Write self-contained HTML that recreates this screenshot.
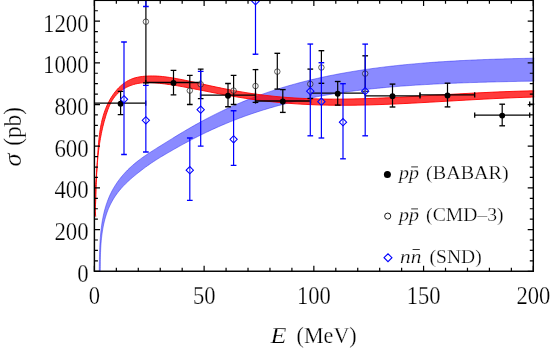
<!DOCTYPE html>
<html><head><meta charset="utf-8"><title>chart</title>
<style>
html,body{margin:0;padding:0;background:#fff;}
body{width:551px;height:354px;overflow:hidden;}
svg{display:block;will-change:transform;}
text{font-family:"Liberation Serif",serif;fill:#000;stroke:#fff;stroke-width:0.25px;paint-order:fill stroke;}
</style></head><body>
<svg width="551" height="354" viewBox="0 0 551 354">
<rect x="0" y="0" width="551" height="354" fill="#fff"/>
<defs><clipPath id="pc"><rect x="93.90" y="0" width="440.40" height="271.85"/></clipPath></defs>
<g clip-path="url(#pc)">
<path d="M99.22,270.85 C99.22,270.47 99.25,269.33 99.26,268.57 C99.28,267.80 99.29,267.03 99.30,266.26 C99.32,265.49 99.33,264.71 99.34,263.93 C99.36,263.15 99.37,262.37 99.38,261.58 C99.40,260.79 99.41,260.00 99.43,259.21 C99.45,258.42 99.46,257.63 99.48,256.83 C99.50,256.03 99.52,255.23 99.54,254.43 C99.56,253.63 99.58,252.83 99.61,252.02 C99.63,251.22 99.66,250.41 99.69,249.60 C99.72,248.80 99.75,247.99 99.78,247.17 C99.82,246.36 99.85,245.55 99.89,244.74 C99.93,243.93 99.98,243.11 100.02,242.30 C100.07,241.48 100.12,240.67 100.17,239.85 C100.23,239.04 100.29,238.22 100.35,237.40 C100.41,236.59 100.48,235.77 100.55,234.96 C100.62,234.14 100.70,233.33 100.78,232.51 C100.86,231.70 100.95,230.88 101.04,230.07 C101.13,229.26 101.22,228.44 101.33,227.63 C101.43,226.82 101.54,226.01 101.65,225.20 C101.77,224.39 101.89,223.59 102.01,222.78 C102.14,221.98 102.28,221.17 102.42,220.37 C102.56,219.57 102.70,218.77 102.86,217.97 C103.01,217.17 103.17,216.38 103.34,215.59 C103.51,214.79 103.69,214.00 103.87,213.22 C104.06,212.43 104.25,211.65 104.45,210.87 C104.66,210.09 104.86,209.31 105.08,208.53 C105.30,207.76 105.53,206.99 105.76,206.22 C106.00,205.46 106.24,204.69 106.50,203.93 C106.75,203.18 107.01,202.42 107.29,201.67 C107.56,200.92 107.84,200.18 108.13,199.44 C108.42,198.70 108.72,197.96 109.03,197.23 C109.34,196.50 109.66,195.77 109.99,195.05 C110.32,194.33 110.66,193.62 111.01,192.91 C111.36,192.20 111.72,191.50 112.09,190.80 C112.46,190.10 112.83,189.41 113.22,188.73 C113.61,188.04 114.01,187.36 114.42,186.69 C114.83,186.02 115.25,185.35 115.67,184.69 C116.10,184.03 116.53,183.37 116.98,182.72 C117.43,182.07 117.88,181.43 118.34,180.79 C118.81,180.16 119.28,179.53 119.76,178.90 C120.24,178.28 120.73,177.66 121.22,177.05 C121.72,176.44 122.23,175.83 122.74,175.24 C123.25,174.64 123.78,174.04 124.31,173.46 C124.84,172.87 125.37,172.29 125.92,171.72 C126.46,171.15 127.02,170.58 127.58,170.02 C128.14,169.46 128.71,168.91 129.28,168.36 C129.85,167.82 130.44,167.28 131.02,166.74 C131.61,166.21 132.21,165.68 132.81,165.15 C133.41,164.63 134.02,164.11 134.63,163.60 C135.24,163.09 135.86,162.58 136.48,162.08 C137.11,161.58 137.74,161.08 138.37,160.59 C139.00,160.10 139.64,159.61 140.28,159.13 C140.93,158.65 141.57,158.18 142.23,157.71 C142.88,157.24 143.53,156.78 144.19,156.32 C144.85,155.86 145.51,155.41 146.18,154.96 C146.84,154.51 147.51,154.07 148.18,153.62 C148.85,153.18 149.53,152.74 150.20,152.30 C150.88,151.87 151.56,151.43 152.24,151.00 C152.92,150.57 153.60,150.14 154.29,149.70 C154.97,149.27 155.66,148.84 156.34,148.41 C157.03,147.98 157.72,147.55 158.40,147.12 C159.09,146.70 159.78,146.27 160.47,145.84 C161.16,145.41 161.85,144.98 162.53,144.55 C163.22,144.12 163.91,143.69 164.60,143.26 C165.29,142.83 165.98,142.41 166.67,141.98 C167.35,141.55 168.04,141.12 168.73,140.70 C169.42,140.27 170.11,139.84 170.80,139.42 C171.49,138.99 172.18,138.56 172.87,138.14 C173.55,137.71 173.89,137.51 174.93,136.87 C175.98,136.23 177.95,135.02 179.16,134.29 C180.36,133.57 181.15,133.09 182.15,132.50 C183.15,131.90 184.15,131.31 185.15,130.72 C186.15,130.13 187.15,129.55 188.15,128.97 C189.15,128.39 190.15,127.81 191.15,127.24 C192.15,126.67 193.15,126.10 194.15,125.54 C195.15,124.97 196.15,124.41 197.15,123.86 C198.14,123.31 199.14,122.76 200.14,122.21 C201.14,121.67 202.14,121.12 203.14,120.59 C204.14,120.05 205.14,119.52 206.14,118.99 C207.14,118.47 208.14,117.94 209.14,117.43 C210.14,116.91 211.14,116.40 212.14,115.89 C213.14,115.38 214.13,114.88 215.13,114.38 C216.13,113.88 217.13,113.38 218.13,112.89 C219.13,112.40 220.13,111.92 221.13,111.44 C222.13,110.96 223.13,110.48 224.13,110.01 C225.13,109.54 226.13,109.08 227.13,108.61 C228.13,108.15 229.12,107.70 230.12,107.25 C231.12,106.79 232.12,106.35 233.12,105.90 C234.12,105.46 235.12,105.02 236.12,104.59 C237.12,104.16 238.12,103.73 239.12,103.30 C240.12,102.88 241.12,102.46 242.12,102.04 C243.11,101.63 244.11,101.22 245.11,100.81 C246.11,100.40 247.11,100.00 248.11,99.60 C249.11,99.21 250.11,98.81 251.11,98.43 C252.11,98.04 253.11,97.65 254.11,97.27 C255.11,96.89 256.11,96.52 257.10,96.14 C258.10,95.77 259.10,95.41 260.10,95.04 C261.10,94.68 262.10,94.32 263.10,93.97 C264.10,93.61 265.10,93.26 266.10,92.91 C267.10,92.57 268.10,92.22 269.10,91.89 C270.10,91.55 271.09,91.21 272.09,90.88 C273.09,90.55 274.09,90.22 275.09,89.90 C276.09,89.58 277.09,89.26 278.09,88.94 C279.09,88.63 280.09,88.32 281.09,88.01 C282.09,87.70 283.09,87.40 284.09,87.10 C285.09,86.80 286.09,86.50 287.08,86.21 C288.08,85.92 289.08,85.63 290.08,85.34 C291.08,85.05 292.08,84.77 293.08,84.49 C294.08,84.21 295.08,83.94 296.08,83.67 C297.08,83.39 298.08,83.13 299.08,82.86 C300.08,82.60 301.08,82.33 302.08,82.07 C303.07,81.82 304.07,81.56 305.07,81.31 C306.07,81.06 307.07,80.81 308.07,80.56 C309.07,80.32 310.07,80.07 311.07,79.83 C312.07,79.59 313.07,79.36 314.07,79.12 C315.07,78.89 316.07,78.66 317.07,78.43 C318.07,78.21 319.07,77.98 320.06,77.76 C321.06,77.54 322.06,77.32 323.06,77.10 C324.06,76.89 325.06,76.68 326.06,76.47 C327.06,76.26 328.06,76.05 329.06,75.84 C330.06,75.64 331.06,75.44 332.06,75.24 C333.06,75.04 334.06,74.84 335.06,74.65 C336.06,74.45 337.06,74.26 338.06,74.07 C339.06,73.89 340.05,73.70 341.05,73.52 C342.05,73.33 343.05,73.15 344.05,72.97 C345.05,72.79 346.05,72.62 347.05,72.44 C348.05,72.27 349.05,72.10 350.05,71.93 C351.05,71.76 352.05,71.59 353.05,71.43 C354.05,71.27 355.05,71.10 356.05,70.94 C357.05,70.78 358.05,70.63 359.05,70.47 C360.05,70.32 361.05,70.16 362.04,70.01 C363.04,69.86 364.04,69.71 365.04,69.57 C366.04,69.42 367.04,69.28 368.04,69.13 C369.04,68.99 370.04,68.85 371.04,68.71 C372.04,68.57 373.04,68.44 374.04,68.30 C375.04,68.17 376.04,68.04 377.04,67.91 C378.04,67.77 379.04,67.65 380.04,67.52 C381.04,67.39 382.04,67.27 383.04,67.14 C384.04,67.02 385.04,66.90 386.04,66.78 C387.04,66.66 388.03,66.54 389.03,66.43 C390.03,66.31 391.03,66.20 392.03,66.09 C393.03,65.97 394.03,65.86 395.03,65.75 C396.03,65.65 397.03,65.54 398.03,65.43 C399.03,65.33 400.03,65.22 401.03,65.12 C402.03,65.02 403.03,64.92 404.03,64.82 C405.03,64.72 406.03,64.62 407.03,64.53 C408.03,64.43 409.03,64.34 410.03,64.24 C411.03,64.15 412.03,64.06 413.03,63.97 C414.03,63.88 415.03,63.79 416.03,63.70 C417.03,63.61 418.03,63.53 419.03,63.44 C420.02,63.36 421.02,63.28 422.02,63.19 C423.02,63.11 424.02,63.03 425.02,62.95 C426.02,62.87 427.02,62.80 428.02,62.72 C429.02,62.64 430.02,62.57 431.02,62.49 C432.02,62.42 433.02,62.35 434.02,62.28 C435.02,62.20 436.02,62.13 437.02,62.06 C438.02,62.00 439.02,61.93 440.02,61.86 C441.02,61.79 442.02,61.73 443.02,61.66 C444.02,61.60 445.02,61.54 446.02,61.47 C447.02,61.41 448.02,61.35 449.02,61.29 C450.02,61.23 451.02,61.17 452.02,61.11 C453.02,61.06 454.02,61.00 455.02,60.94 C456.02,60.89 457.02,60.83 458.02,60.78 C459.02,60.72 460.02,60.67 461.02,60.62 C462.02,60.57 463.02,60.52 464.01,60.47 C465.01,60.42 466.01,60.37 467.01,60.32 C468.01,60.27 469.01,60.22 470.01,60.18 C471.01,60.13 472.01,60.09 473.01,60.04 C474.01,60.00 475.01,59.95 476.01,59.91 C477.01,59.87 478.01,59.82 479.01,59.78 C480.01,59.74 481.01,59.70 482.01,59.66 C483.01,59.62 484.01,59.58 485.01,59.54 C486.01,59.51 487.01,59.47 488.01,59.43 C489.01,59.40 490.01,59.36 491.01,59.32 C492.01,59.29 493.01,59.26 494.01,59.22 C495.01,59.19 496.01,59.15 497.01,59.12 C498.01,59.09 499.01,59.06 500.01,59.03 C501.01,59.00 502.01,58.97 503.01,58.94 C504.01,58.91 505.01,58.88 506.01,58.85 C507.01,58.82 508.01,58.79 509.01,58.76 C510.01,58.74 511.01,58.71 512.01,58.68 C513.01,58.66 514.01,58.63 515.01,58.61 C516.01,58.58 517.01,58.56 518.01,58.53 C519.01,58.51 520.01,58.49 521.01,58.46 C522.01,58.44 523.01,58.42 524.01,58.40 C525.01,58.38 526.01,58.35 527.01,58.33 C528.01,58.31 529.01,58.29 530.01,58.27 C531.01,58.25 532.24,58.23 533.01,58.21 C533.77,58.20 534.34,58.19 534.61,58.18 L534.59,81.06 C534.49,81.06 534.59,81.06 533.99,81.07 C533.39,81.09 531.99,81.11 530.99,81.13 C529.99,81.15 528.99,81.17 527.99,81.19 C526.99,81.21 525.99,81.23 524.99,81.25 C523.99,81.27 522.99,81.29 521.99,81.31 C520.99,81.33 519.99,81.35 518.99,81.37 C517.99,81.39 516.99,81.41 515.99,81.43 C514.99,81.45 513.99,81.47 512.99,81.50 C511.99,81.52 510.99,81.54 509.99,81.56 C508.99,81.58 507.99,81.60 506.99,81.63 C505.99,81.65 504.99,81.67 503.99,81.70 C502.99,81.72 501.99,81.74 500.99,81.77 C499.99,81.79 498.99,81.81 497.99,81.84 C496.99,81.86 495.99,81.89 494.99,81.91 C493.99,81.94 492.99,81.96 491.99,81.99 C490.99,82.02 489.99,82.04 488.99,82.07 C487.99,82.10 486.99,82.12 485.99,82.15 C484.99,82.18 483.99,82.21 482.99,82.23 C481.99,82.26 480.99,82.29 479.99,82.32 C478.99,82.35 477.99,82.38 476.99,82.41 C475.99,82.44 474.99,82.47 473.99,82.50 C472.99,82.54 471.99,82.57 470.99,82.60 C469.99,82.63 468.99,82.67 467.99,82.70 C466.99,82.73 465.99,82.77 464.99,82.80 C463.99,82.84 462.99,82.87 461.99,82.91 C460.99,82.95 459.99,82.98 458.99,83.02 C457.99,83.06 456.99,83.10 455.99,83.14 C454.99,83.18 453.99,83.22 452.99,83.26 C451.99,83.30 450.99,83.34 449.99,83.38 C448.99,83.42 447.99,83.46 446.99,83.51 C445.99,83.55 444.99,83.60 443.99,83.64 C442.99,83.69 441.99,83.73 440.99,83.78 C439.99,83.83 438.99,83.87 437.99,83.92 C436.99,83.97 435.99,84.02 434.98,84.07 C433.98,84.12 432.98,84.17 431.98,84.23 C430.98,84.28 429.98,84.33 428.98,84.39 C427.98,84.44 426.98,84.49 425.98,84.55 C424.98,84.61 423.98,84.67 422.98,84.72 C421.98,84.78 420.98,84.84 419.98,84.90 C418.98,84.96 417.98,85.02 416.98,85.09 C415.98,85.15 414.98,85.21 413.98,85.28 C412.98,85.34 411.98,85.41 410.98,85.48 C409.98,85.55 408.98,85.61 407.98,85.68 C406.98,85.76 405.98,85.83 404.98,85.90 C403.98,85.97 402.98,86.05 401.98,86.12 C400.98,86.20 399.98,86.27 398.98,86.35 C397.98,86.43 396.98,86.51 395.98,86.59 C394.98,86.67 393.98,86.75 392.98,86.83 C391.97,86.92 390.97,87.00 389.97,87.09 C388.97,87.18 387.97,87.26 386.97,87.35 C385.97,87.44 384.97,87.53 383.97,87.63 C382.97,87.72 381.97,87.81 380.97,87.91 C379.97,88.01 378.97,88.10 377.97,88.20 C376.97,88.30 375.97,88.40 374.97,88.51 C373.97,88.61 372.97,88.71 371.97,88.82 C370.97,88.93 369.97,89.03 368.97,89.14 C367.97,89.25 366.97,89.37 365.97,89.48 C364.97,89.59 363.97,89.71 362.97,89.83 C361.96,89.94 360.96,90.06 359.96,90.18 C358.96,90.30 357.96,90.43 356.96,90.55 C355.96,90.68 354.96,90.81 353.96,90.93 C352.96,91.06 351.96,91.20 350.96,91.33 C349.96,91.46 348.96,91.60 347.96,91.74 C346.96,91.87 345.96,92.01 344.96,92.16 C343.96,92.30 342.96,92.44 341.96,92.59 C340.96,92.74 339.96,92.89 338.96,93.04 C337.95,93.19 336.95,93.34 335.95,93.50 C334.95,93.66 333.95,93.82 332.95,93.98 C331.95,94.14 330.95,94.30 329.95,94.47 C328.95,94.64 327.95,94.80 326.95,94.98 C325.95,95.15 324.95,95.32 323.95,95.50 C322.95,95.67 321.95,95.85 320.95,96.04 C319.95,96.22 318.95,96.40 317.94,96.59 C316.94,96.78 315.94,96.97 314.94,97.16 C313.94,97.36 312.94,97.55 311.94,97.75 C310.94,97.95 309.94,98.15 308.94,98.36 C307.94,98.56 306.94,98.77 305.94,98.98 C304.94,99.19 303.94,99.40 302.94,99.62 C301.94,99.84 300.94,100.06 299.93,100.28 C298.93,100.51 297.93,100.73 296.93,100.96 C295.93,101.19 294.93,101.43 293.93,101.66 C292.93,101.90 291.93,102.14 290.93,102.38 C289.93,102.62 288.93,102.87 287.93,103.12 C286.93,103.37 285.93,103.62 284.93,103.88 C283.92,104.14 282.92,104.40 281.92,104.66 C280.92,104.92 279.92,105.19 278.92,105.46 C277.92,105.73 276.92,106.01 275.92,106.29 C274.92,106.57 273.92,106.85 272.92,107.13 C271.92,107.42 270.92,107.71 269.92,108.00 C268.91,108.30 267.91,108.59 266.91,108.89 C265.91,109.20 264.91,109.50 263.91,109.81 C262.91,110.12 261.91,110.43 260.91,110.75 C259.91,111.07 258.91,111.39 257.91,111.71 C256.91,112.04 255.91,112.37 254.91,112.70 C253.90,113.03 252.90,113.37 251.90,113.71 C250.90,114.06 249.90,114.40 248.90,114.75 C247.90,115.10 246.90,115.46 245.90,115.82 C244.90,116.17 243.90,116.54 242.90,116.90 C241.90,117.27 240.90,117.64 239.89,118.02 C238.89,118.40 237.89,118.78 236.89,119.16 C235.89,119.55 234.89,119.94 233.89,120.33 C232.89,120.72 231.89,121.12 230.89,121.53 C229.89,121.93 228.89,122.34 227.89,122.75 C226.89,123.16 225.88,123.58 224.88,124.00 C223.88,124.42 222.88,124.85 221.88,125.28 C220.88,125.71 219.88,126.14 218.88,126.58 C217.88,127.02 216.88,127.46 215.88,127.91 C214.88,128.36 213.88,128.81 212.88,129.27 C211.87,129.73 210.87,130.19 209.87,130.66 C208.87,131.13 207.87,131.60 206.87,132.07 C205.87,132.55 204.87,133.03 203.87,133.52 C202.87,134.00 201.87,134.49 200.87,134.98 C199.87,135.48 198.87,135.98 197.87,136.48 C196.86,136.98 195.86,137.49 194.86,138.00 C193.86,138.52 192.86,139.03 191.86,139.55 C190.86,140.08 189.86,140.60 188.86,141.13 C187.86,141.66 186.86,142.19 185.86,142.73 C184.86,143.27 183.86,143.81 182.86,144.36 C181.86,144.91 180.86,145.46 179.85,146.01 C178.85,146.57 177.97,147.06 176.85,147.69 C175.74,148.32 174.12,149.24 173.17,149.78 C172.22,150.33 171.82,150.56 171.14,150.94 C170.47,151.33 169.79,151.72 169.12,152.11 C168.45,152.50 167.78,152.88 167.11,153.27 C166.44,153.66 165.77,154.05 165.10,154.44 C164.44,154.84 163.77,155.23 163.11,155.63 C162.44,156.02 161.78,156.42 161.12,156.82 C160.46,157.22 159.80,157.62 159.15,158.03 C158.49,158.43 157.83,158.84 157.18,159.25 C156.53,159.67 155.87,160.08 155.22,160.50 C154.57,160.92 153.92,161.34 153.28,161.77 C152.63,162.20 151.98,162.63 151.34,163.07 C150.70,163.51 150.06,163.95 149.42,164.39 C148.78,164.84 148.14,165.29 147.50,165.74 C146.87,166.20 146.23,166.66 145.60,167.12 C144.97,167.58 144.34,168.05 143.71,168.52 C143.09,168.99 142.46,169.47 141.84,169.95 C141.21,170.43 140.59,170.91 139.97,171.39 C139.35,171.88 138.73,172.36 138.12,172.85 C137.50,173.34 136.89,173.84 136.28,174.33 C135.67,174.82 135.06,175.32 134.46,175.82 C133.85,176.32 133.25,176.83 132.66,177.33 C132.06,177.84 131.47,178.35 130.88,178.87 C130.29,179.39 129.70,179.91 129.13,180.43 C128.55,180.96 127.97,181.49 127.41,182.03 C126.84,182.56 126.28,183.10 125.73,183.65 C125.17,184.20 124.62,184.75 124.08,185.31 C123.54,185.87 123.01,186.43 122.48,187.00 C121.96,187.58 121.44,188.15 120.93,188.74 C120.42,189.32 119.92,189.91 119.43,190.51 C118.94,191.11 118.46,191.71 117.99,192.33 C117.51,192.94 117.05,193.56 116.60,194.19 C116.15,194.81 115.71,195.45 115.28,196.09 C114.84,196.73 114.42,197.38 114.01,198.04 C113.60,198.69 113.20,199.35 112.81,200.02 C112.42,200.69 112.04,201.37 111.67,202.05 C111.31,202.73 110.95,203.42 110.60,204.11 C110.25,204.81 109.92,205.51 109.59,206.21 C109.26,206.92 108.95,207.63 108.64,208.34 C108.34,209.06 108.04,209.78 107.76,210.51 C107.48,211.24 107.20,211.97 106.94,212.70 C106.68,213.44 106.43,214.18 106.19,214.93 C105.94,215.68 105.71,216.43 105.49,217.18 C105.27,217.93 105.05,218.69 104.85,219.45 C104.65,220.22 104.45,220.98 104.27,221.75 C104.08,222.52 103.90,223.29 103.73,224.06 C103.56,224.84 103.40,225.61 103.25,226.39 C103.10,227.17 102.95,227.96 102.82,228.74 C102.68,229.52 102.55,230.31 102.43,231.10 C102.30,231.88 102.19,232.67 102.08,233.46 C101.97,234.25 101.87,235.05 101.77,235.84 C101.68,236.63 101.59,237.42 101.50,238.22 C101.42,239.01 101.34,239.81 101.27,240.60 C101.20,241.39 101.13,242.19 101.07,242.98 C101.01,243.78 100.95,244.57 100.90,245.36 C100.85,246.16 100.80,246.95 100.76,247.74 C100.72,248.53 100.68,249.32 100.65,250.11 C100.61,250.90 100.58,251.69 100.55,252.48 C100.53,253.26 100.50,254.05 100.48,254.83 C100.46,255.61 100.44,256.39 100.42,257.17 C100.41,257.95 100.40,258.73 100.38,259.50 C100.37,260.28 100.36,261.05 100.35,261.82 C100.34,262.59 100.34,263.35 100.33,264.11 C100.33,264.88 100.32,265.64 100.32,266.39 C100.31,267.15 100.31,267.90 100.30,268.65 C100.30,269.40 100.29,270.51 100.29,270.89 Z" fill="rgba(0,0,255,0.46)" stroke="none"/>
<path d="M99.22,270.85 C99.22,270.47 99.25,269.33 99.26,268.57 C99.28,267.80 99.29,267.03 99.30,266.26 C99.32,265.49 99.33,264.71 99.34,263.93 C99.36,263.15 99.37,262.37 99.38,261.58 C99.40,260.79 99.41,260.00 99.43,259.21 C99.45,258.42 99.46,257.63 99.48,256.83 C99.50,256.03 99.52,255.23 99.54,254.43 C99.56,253.63 99.58,252.83 99.61,252.02 C99.63,251.22 99.66,250.41 99.69,249.60 C99.72,248.80 99.75,247.99 99.78,247.17 C99.82,246.36 99.85,245.55 99.89,244.74 C99.93,243.93 99.98,243.11 100.02,242.30 C100.07,241.48 100.12,240.67 100.17,239.85 C100.23,239.04 100.29,238.22 100.35,237.40 C100.41,236.59 100.48,235.77 100.55,234.96 C100.62,234.14 100.70,233.33 100.78,232.51 C100.86,231.70 100.95,230.88 101.04,230.07 C101.13,229.26 101.22,228.44 101.33,227.63 C101.43,226.82 101.54,226.01 101.65,225.20 C101.77,224.39 101.89,223.59 102.01,222.78 C102.14,221.98 102.28,221.17 102.42,220.37 C102.56,219.57 102.70,218.77 102.86,217.97 C103.01,217.17 103.17,216.38 103.34,215.59 C103.51,214.79 103.69,214.00 103.87,213.22 C104.06,212.43 104.25,211.65 104.45,210.87 C104.66,210.09 104.86,209.31 105.08,208.53 C105.30,207.76 105.53,206.99 105.76,206.22 C106.00,205.46 106.24,204.69 106.50,203.93 C106.75,203.18 107.01,202.42 107.29,201.67 C107.56,200.92 107.84,200.18 108.13,199.44 C108.42,198.70 108.72,197.96 109.03,197.23 C109.34,196.50 109.66,195.77 109.99,195.05 C110.32,194.33 110.66,193.62 111.01,192.91 C111.36,192.20 111.72,191.50 112.09,190.80 C112.46,190.10 112.83,189.41 113.22,188.73 C113.61,188.04 114.01,187.36 114.42,186.69 C114.83,186.02 115.25,185.35 115.67,184.69 C116.10,184.03 116.53,183.37 116.98,182.72 C117.43,182.07 117.88,181.43 118.34,180.79 C118.81,180.16 119.28,179.53 119.76,178.90 C120.24,178.28 120.73,177.66 121.22,177.05 C121.72,176.44 122.23,175.83 122.74,175.24 C123.25,174.64 123.78,174.04 124.31,173.46 C124.84,172.87 125.37,172.29 125.92,171.72 C126.46,171.15 127.02,170.58 127.58,170.02 C128.14,169.46 128.71,168.91 129.28,168.36 C129.85,167.82 130.44,167.28 131.02,166.74 C131.61,166.21 132.21,165.68 132.81,165.15 C133.41,164.63 134.02,164.11 134.63,163.60 C135.24,163.09 135.86,162.58 136.48,162.08 C137.11,161.58 137.74,161.08 138.37,160.59 C139.00,160.10 139.64,159.61 140.28,159.13 C140.93,158.65 141.57,158.18 142.23,157.71 C142.88,157.24 143.53,156.78 144.19,156.32 C144.85,155.86 145.51,155.41 146.18,154.96 C146.84,154.51 147.51,154.07 148.18,153.62 C148.85,153.18 149.53,152.74 150.20,152.30 C150.88,151.87 151.56,151.43 152.24,151.00 C152.92,150.57 153.60,150.14 154.29,149.70 C154.97,149.27 155.66,148.84 156.34,148.41 C157.03,147.98 157.72,147.55 158.40,147.12 C159.09,146.70 159.78,146.27 160.47,145.84 C161.16,145.41 161.85,144.98 162.53,144.55 C163.22,144.12 163.91,143.69 164.60,143.26 C165.29,142.83 165.98,142.41 166.67,141.98 C167.35,141.55 168.04,141.12 168.73,140.70 C169.42,140.27 170.11,139.84 170.80,139.42 C171.49,138.99 172.18,138.56 172.87,138.14 C173.55,137.71 173.89,137.51 174.93,136.87 C175.98,136.23 177.95,135.02 179.16,134.29 C180.36,133.57 181.15,133.09 182.15,132.50 C183.15,131.90 184.15,131.31 185.15,130.72 C186.15,130.13 187.15,129.55 188.15,128.97 C189.15,128.39 190.15,127.81 191.15,127.24 C192.15,126.67 193.15,126.10 194.15,125.54 C195.15,124.97 196.15,124.41 197.15,123.86 C198.14,123.31 199.14,122.76 200.14,122.21 C201.14,121.67 202.14,121.12 203.14,120.59 C204.14,120.05 205.14,119.52 206.14,118.99 C207.14,118.47 208.14,117.94 209.14,117.43 C210.14,116.91 211.14,116.40 212.14,115.89 C213.14,115.38 214.13,114.88 215.13,114.38 C216.13,113.88 217.13,113.38 218.13,112.89 C219.13,112.40 220.13,111.92 221.13,111.44 C222.13,110.96 223.13,110.48 224.13,110.01 C225.13,109.54 226.13,109.08 227.13,108.61 C228.13,108.15 229.12,107.70 230.12,107.25 C231.12,106.79 232.12,106.35 233.12,105.90 C234.12,105.46 235.12,105.02 236.12,104.59 C237.12,104.16 238.12,103.73 239.12,103.30 C240.12,102.88 241.12,102.46 242.12,102.04 C243.11,101.63 244.11,101.22 245.11,100.81 C246.11,100.40 247.11,100.00 248.11,99.60 C249.11,99.21 250.11,98.81 251.11,98.43 C252.11,98.04 253.11,97.65 254.11,97.27 C255.11,96.89 256.11,96.52 257.10,96.14 C258.10,95.77 259.10,95.41 260.10,95.04 C261.10,94.68 262.10,94.32 263.10,93.97 C264.10,93.61 265.10,93.26 266.10,92.91 C267.10,92.57 268.10,92.22 269.10,91.89 C270.10,91.55 271.09,91.21 272.09,90.88 C273.09,90.55 274.09,90.22 275.09,89.90 C276.09,89.58 277.09,89.26 278.09,88.94 C279.09,88.63 280.09,88.32 281.09,88.01 C282.09,87.70 283.09,87.40 284.09,87.10 C285.09,86.80 286.09,86.50 287.08,86.21 C288.08,85.92 289.08,85.63 290.08,85.34 C291.08,85.05 292.08,84.77 293.08,84.49 C294.08,84.21 295.08,83.94 296.08,83.67 C297.08,83.39 298.08,83.13 299.08,82.86 C300.08,82.60 301.08,82.33 302.08,82.07 C303.07,81.82 304.07,81.56 305.07,81.31 C306.07,81.06 307.07,80.81 308.07,80.56 C309.07,80.32 310.07,80.07 311.07,79.83 C312.07,79.59 313.07,79.36 314.07,79.12 C315.07,78.89 316.07,78.66 317.07,78.43 C318.07,78.21 319.07,77.98 320.06,77.76 C321.06,77.54 322.06,77.32 323.06,77.10 C324.06,76.89 325.06,76.68 326.06,76.47 C327.06,76.26 328.06,76.05 329.06,75.84 C330.06,75.64 331.06,75.44 332.06,75.24 C333.06,75.04 334.06,74.84 335.06,74.65 C336.06,74.45 337.06,74.26 338.06,74.07 C339.06,73.89 340.05,73.70 341.05,73.52 C342.05,73.33 343.05,73.15 344.05,72.97 C345.05,72.79 346.05,72.62 347.05,72.44 C348.05,72.27 349.05,72.10 350.05,71.93 C351.05,71.76 352.05,71.59 353.05,71.43 C354.05,71.27 355.05,71.10 356.05,70.94 C357.05,70.78 358.05,70.63 359.05,70.47 C360.05,70.32 361.05,70.16 362.04,70.01 C363.04,69.86 364.04,69.71 365.04,69.57 C366.04,69.42 367.04,69.28 368.04,69.13 C369.04,68.99 370.04,68.85 371.04,68.71 C372.04,68.57 373.04,68.44 374.04,68.30 C375.04,68.17 376.04,68.04 377.04,67.91 C378.04,67.77 379.04,67.65 380.04,67.52 C381.04,67.39 382.04,67.27 383.04,67.14 C384.04,67.02 385.04,66.90 386.04,66.78 C387.04,66.66 388.03,66.54 389.03,66.43 C390.03,66.31 391.03,66.20 392.03,66.09 C393.03,65.97 394.03,65.86 395.03,65.75 C396.03,65.65 397.03,65.54 398.03,65.43 C399.03,65.33 400.03,65.22 401.03,65.12 C402.03,65.02 403.03,64.92 404.03,64.82 C405.03,64.72 406.03,64.62 407.03,64.53 C408.03,64.43 409.03,64.34 410.03,64.24 C411.03,64.15 412.03,64.06 413.03,63.97 C414.03,63.88 415.03,63.79 416.03,63.70 C417.03,63.61 418.03,63.53 419.03,63.44 C420.02,63.36 421.02,63.28 422.02,63.19 C423.02,63.11 424.02,63.03 425.02,62.95 C426.02,62.87 427.02,62.80 428.02,62.72 C429.02,62.64 430.02,62.57 431.02,62.49 C432.02,62.42 433.02,62.35 434.02,62.28 C435.02,62.20 436.02,62.13 437.02,62.06 C438.02,62.00 439.02,61.93 440.02,61.86 C441.02,61.79 442.02,61.73 443.02,61.66 C444.02,61.60 445.02,61.54 446.02,61.47 C447.02,61.41 448.02,61.35 449.02,61.29 C450.02,61.23 451.02,61.17 452.02,61.11 C453.02,61.06 454.02,61.00 455.02,60.94 C456.02,60.89 457.02,60.83 458.02,60.78 C459.02,60.72 460.02,60.67 461.02,60.62 C462.02,60.57 463.02,60.52 464.01,60.47 C465.01,60.42 466.01,60.37 467.01,60.32 C468.01,60.27 469.01,60.22 470.01,60.18 C471.01,60.13 472.01,60.09 473.01,60.04 C474.01,60.00 475.01,59.95 476.01,59.91 C477.01,59.87 478.01,59.82 479.01,59.78 C480.01,59.74 481.01,59.70 482.01,59.66 C483.01,59.62 484.01,59.58 485.01,59.54 C486.01,59.51 487.01,59.47 488.01,59.43 C489.01,59.40 490.01,59.36 491.01,59.32 C492.01,59.29 493.01,59.26 494.01,59.22 C495.01,59.19 496.01,59.15 497.01,59.12 C498.01,59.09 499.01,59.06 500.01,59.03 C501.01,59.00 502.01,58.97 503.01,58.94 C504.01,58.91 505.01,58.88 506.01,58.85 C507.01,58.82 508.01,58.79 509.01,58.76 C510.01,58.74 511.01,58.71 512.01,58.68 C513.01,58.66 514.01,58.63 515.01,58.61 C516.01,58.58 517.01,58.56 518.01,58.53 C519.01,58.51 520.01,58.49 521.01,58.46 C522.01,58.44 523.01,58.42 524.01,58.40 C525.01,58.38 526.01,58.35 527.01,58.33 C528.01,58.31 529.01,58.29 530.01,58.27 C531.01,58.25 532.24,58.23 533.01,58.21 C533.77,58.20 534.34,58.19 534.61,58.18" fill="none" stroke="rgba(40,40,240,0.8)" stroke-width="0.6"/>
<path d="M100.29,270.89 C100.29,270.51 100.30,269.40 100.30,268.65 C100.31,267.90 100.31,267.15 100.32,266.39 C100.32,265.64 100.33,264.88 100.33,264.11 C100.34,263.35 100.34,262.59 100.35,261.82 C100.36,261.05 100.37,260.28 100.38,259.50 C100.40,258.73 100.41,257.95 100.42,257.17 C100.44,256.39 100.46,255.61 100.48,254.83 C100.50,254.05 100.53,253.26 100.55,252.48 C100.58,251.69 100.61,250.90 100.65,250.11 C100.68,249.32 100.72,248.53 100.76,247.74 C100.80,246.95 100.85,246.16 100.90,245.36 C100.95,244.57 101.01,243.78 101.07,242.98 C101.13,242.19 101.20,241.39 101.27,240.60 C101.34,239.81 101.42,239.01 101.50,238.22 C101.59,237.42 101.68,236.63 101.77,235.84 C101.87,235.05 101.97,234.25 102.08,233.46 C102.19,232.67 102.30,231.88 102.43,231.10 C102.55,230.31 102.68,229.52 102.82,228.74 C102.95,227.96 103.10,227.17 103.25,226.39 C103.40,225.61 103.56,224.84 103.73,224.06 C103.90,223.29 104.08,222.52 104.27,221.75 C104.45,220.98 104.65,220.22 104.85,219.45 C105.05,218.69 105.27,217.93 105.49,217.18 C105.71,216.43 105.94,215.68 106.19,214.93 C106.43,214.18 106.68,213.44 106.94,212.70 C107.20,211.97 107.48,211.24 107.76,210.51 C108.04,209.78 108.34,209.06 108.64,208.34 C108.95,207.63 109.26,206.92 109.59,206.21 C109.92,205.51 110.25,204.81 110.60,204.11 C110.95,203.42 111.31,202.73 111.67,202.05 C112.04,201.37 112.42,200.69 112.81,200.02 C113.20,199.35 113.60,198.69 114.01,198.04 C114.42,197.38 114.84,196.73 115.28,196.09 C115.71,195.45 116.15,194.81 116.60,194.19 C117.05,193.56 117.51,192.94 117.99,192.33 C118.46,191.71 118.94,191.11 119.43,190.51 C119.92,189.91 120.42,189.32 120.93,188.74 C121.44,188.15 121.96,187.58 122.48,187.00 C123.01,186.43 123.54,185.87 124.08,185.31 C124.62,184.75 125.17,184.20 125.73,183.65 C126.28,183.10 126.84,182.56 127.41,182.03 C127.97,181.49 128.55,180.96 129.13,180.43 C129.70,179.91 130.29,179.39 130.88,178.87 C131.47,178.35 132.06,177.84 132.66,177.33 C133.25,176.83 133.85,176.32 134.46,175.82 C135.06,175.32 135.67,174.82 136.28,174.33 C136.89,173.84 137.50,173.34 138.12,172.85 C138.73,172.36 139.35,171.88 139.97,171.39 C140.59,170.91 141.21,170.43 141.84,169.95 C142.46,169.47 143.09,168.99 143.71,168.52 C144.34,168.05 144.97,167.58 145.60,167.12 C146.23,166.66 146.87,166.20 147.50,165.74 C148.14,165.29 148.78,164.84 149.42,164.39 C150.06,163.95 150.70,163.51 151.34,163.07 C151.98,162.63 152.63,162.20 153.28,161.77 C153.92,161.34 154.57,160.92 155.22,160.50 C155.87,160.08 156.53,159.67 157.18,159.25 C157.83,158.84 158.49,158.43 159.15,158.03 C159.80,157.62 160.46,157.22 161.12,156.82 C161.78,156.42 162.44,156.02 163.11,155.63 C163.77,155.23 164.44,154.84 165.10,154.44 C165.77,154.05 166.44,153.66 167.11,153.27 C167.78,152.88 168.45,152.50 169.12,152.11 C169.79,151.72 170.47,151.33 171.14,150.94 C171.82,150.56 172.22,150.33 173.17,149.78 C174.12,149.24 175.74,148.32 176.85,147.69 C177.97,147.06 178.85,146.57 179.85,146.01 C180.86,145.46 181.86,144.91 182.86,144.36 C183.86,143.81 184.86,143.27 185.86,142.73 C186.86,142.19 187.86,141.66 188.86,141.13 C189.86,140.60 190.86,140.08 191.86,139.55 C192.86,139.03 193.86,138.52 194.86,138.00 C195.86,137.49 196.86,136.98 197.87,136.48 C198.87,135.98 199.87,135.48 200.87,134.98 C201.87,134.49 202.87,134.00 203.87,133.52 C204.87,133.03 205.87,132.55 206.87,132.07 C207.87,131.60 208.87,131.13 209.87,130.66 C210.87,130.19 211.87,129.73 212.88,129.27 C213.88,128.81 214.88,128.36 215.88,127.91 C216.88,127.46 217.88,127.02 218.88,126.58 C219.88,126.14 220.88,125.71 221.88,125.28 C222.88,124.85 223.88,124.42 224.88,124.00 C225.88,123.58 226.89,123.16 227.89,122.75 C228.89,122.34 229.89,121.93 230.89,121.53 C231.89,121.12 232.89,120.72 233.89,120.33 C234.89,119.94 235.89,119.55 236.89,119.16 C237.89,118.78 238.89,118.40 239.89,118.02 C240.90,117.64 241.90,117.27 242.90,116.90 C243.90,116.54 244.90,116.17 245.90,115.82 C246.90,115.46 247.90,115.10 248.90,114.75 C249.90,114.40 250.90,114.06 251.90,113.71 C252.90,113.37 253.90,113.03 254.91,112.70 C255.91,112.37 256.91,112.04 257.91,111.71 C258.91,111.39 259.91,111.07 260.91,110.75 C261.91,110.43 262.91,110.12 263.91,109.81 C264.91,109.50 265.91,109.20 266.91,108.89 C267.91,108.59 268.91,108.30 269.92,108.00 C270.92,107.71 271.92,107.42 272.92,107.13 C273.92,106.85 274.92,106.57 275.92,106.29 C276.92,106.01 277.92,105.73 278.92,105.46 C279.92,105.19 280.92,104.92 281.92,104.66 C282.92,104.40 283.92,104.14 284.93,103.88 C285.93,103.62 286.93,103.37 287.93,103.12 C288.93,102.87 289.93,102.62 290.93,102.38 C291.93,102.14 292.93,101.90 293.93,101.66 C294.93,101.43 295.93,101.19 296.93,100.96 C297.93,100.73 298.93,100.51 299.93,100.28 C300.94,100.06 301.94,99.84 302.94,99.62 C303.94,99.40 304.94,99.19 305.94,98.98 C306.94,98.77 307.94,98.56 308.94,98.36 C309.94,98.15 310.94,97.95 311.94,97.75 C312.94,97.55 313.94,97.36 314.94,97.16 C315.94,96.97 316.94,96.78 317.94,96.59 C318.95,96.40 319.95,96.22 320.95,96.04 C321.95,95.85 322.95,95.67 323.95,95.50 C324.95,95.32 325.95,95.15 326.95,94.98 C327.95,94.80 328.95,94.64 329.95,94.47 C330.95,94.30 331.95,94.14 332.95,93.98 C333.95,93.82 334.95,93.66 335.95,93.50 C336.95,93.34 337.95,93.19 338.96,93.04 C339.96,92.89 340.96,92.74 341.96,92.59 C342.96,92.44 343.96,92.30 344.96,92.16 C345.96,92.01 346.96,91.87 347.96,91.74 C348.96,91.60 349.96,91.46 350.96,91.33 C351.96,91.20 352.96,91.06 353.96,90.93 C354.96,90.81 355.96,90.68 356.96,90.55 C357.96,90.43 358.96,90.30 359.96,90.18 C360.96,90.06 361.96,89.94 362.97,89.83 C363.97,89.71 364.97,89.59 365.97,89.48 C366.97,89.37 367.97,89.25 368.97,89.14 C369.97,89.03 370.97,88.93 371.97,88.82 C372.97,88.71 373.97,88.61 374.97,88.51 C375.97,88.40 376.97,88.30 377.97,88.20 C378.97,88.10 379.97,88.01 380.97,87.91 C381.97,87.81 382.97,87.72 383.97,87.63 C384.97,87.53 385.97,87.44 386.97,87.35 C387.97,87.26 388.97,87.18 389.97,87.09 C390.97,87.00 391.97,86.92 392.98,86.83 C393.98,86.75 394.98,86.67 395.98,86.59 C396.98,86.51 397.98,86.43 398.98,86.35 C399.98,86.27 400.98,86.20 401.98,86.12 C402.98,86.05 403.98,85.97 404.98,85.90 C405.98,85.83 406.98,85.76 407.98,85.68 C408.98,85.61 409.98,85.55 410.98,85.48 C411.98,85.41 412.98,85.34 413.98,85.28 C414.98,85.21 415.98,85.15 416.98,85.09 C417.98,85.02 418.98,84.96 419.98,84.90 C420.98,84.84 421.98,84.78 422.98,84.72 C423.98,84.67 424.98,84.61 425.98,84.55 C426.98,84.49 427.98,84.44 428.98,84.39 C429.98,84.33 430.98,84.28 431.98,84.23 C432.98,84.17 433.98,84.12 434.98,84.07 C435.99,84.02 436.99,83.97 437.99,83.92 C438.99,83.87 439.99,83.83 440.99,83.78 C441.99,83.73 442.99,83.69 443.99,83.64 C444.99,83.60 445.99,83.55 446.99,83.51 C447.99,83.46 448.99,83.42 449.99,83.38 C450.99,83.34 451.99,83.30 452.99,83.26 C453.99,83.22 454.99,83.18 455.99,83.14 C456.99,83.10 457.99,83.06 458.99,83.02 C459.99,82.98 460.99,82.95 461.99,82.91 C462.99,82.87 463.99,82.84 464.99,82.80 C465.99,82.77 466.99,82.73 467.99,82.70 C468.99,82.67 469.99,82.63 470.99,82.60 C471.99,82.57 472.99,82.54 473.99,82.50 C474.99,82.47 475.99,82.44 476.99,82.41 C477.99,82.38 478.99,82.35 479.99,82.32 C480.99,82.29 481.99,82.26 482.99,82.23 C483.99,82.21 484.99,82.18 485.99,82.15 C486.99,82.12 487.99,82.10 488.99,82.07 C489.99,82.04 490.99,82.02 491.99,81.99 C492.99,81.96 493.99,81.94 494.99,81.91 C495.99,81.89 496.99,81.86 497.99,81.84 C498.99,81.81 499.99,81.79 500.99,81.77 C501.99,81.74 502.99,81.72 503.99,81.70 C504.99,81.67 505.99,81.65 506.99,81.63 C507.99,81.60 508.99,81.58 509.99,81.56 C510.99,81.54 511.99,81.52 512.99,81.50 C513.99,81.47 514.99,81.45 515.99,81.43 C516.99,81.41 517.99,81.39 518.99,81.37 C519.99,81.35 520.99,81.33 521.99,81.31 C522.99,81.29 523.99,81.27 524.99,81.25 C525.99,81.23 526.99,81.21 527.99,81.19 C528.99,81.17 529.99,81.15 530.99,81.13 C531.99,81.11 533.39,81.09 533.99,81.07 C534.59,81.06 534.49,81.06 534.59,81.06" fill="none" stroke="rgba(40,40,240,0.8)" stroke-width="0.6"/>
<path d="M95.72,216.54 C95.68,216.12 95.55,214.83 95.48,213.99 C95.41,213.14 95.34,212.29 95.29,211.45 C95.24,210.61 95.19,209.77 95.15,208.94 C95.11,208.10 95.08,207.26 95.06,206.43 C95.03,205.60 95.01,204.77 95.00,203.94 C94.99,203.12 94.99,202.29 94.99,201.47 C94.99,200.64 95.00,199.82 95.01,199.00 C95.02,198.18 95.04,197.36 95.06,196.54 C95.08,195.72 95.11,194.90 95.14,194.09 C95.17,193.27 95.20,192.46 95.24,191.64 C95.28,190.83 95.32,190.01 95.37,189.20 C95.41,188.38 95.46,187.57 95.51,186.76 C95.57,185.95 95.62,185.13 95.67,184.32 C95.73,183.51 95.79,182.70 95.85,181.88 C95.91,181.07 95.97,180.26 96.03,179.44 C96.09,178.63 96.15,177.81 96.22,177.00 C96.28,176.18 96.34,175.37 96.41,174.55 C96.47,173.73 96.53,172.91 96.59,172.10 C96.66,171.28 96.72,170.46 96.78,169.63 C96.84,168.81 96.90,167.99 96.96,167.16 C97.01,166.34 97.07,165.51 97.12,164.68 C97.18,163.85 97.23,163.02 97.28,162.19 C97.33,161.36 97.38,160.53 97.43,159.70 C97.48,158.86 97.53,158.03 97.58,157.19 C97.63,156.36 97.68,155.52 97.73,154.69 C97.79,153.85 97.84,153.02 97.89,152.18 C97.95,151.34 98.00,150.51 98.06,149.67 C98.12,148.83 98.17,148.00 98.24,147.16 C98.30,146.32 98.36,145.49 98.43,144.65 C98.50,143.82 98.57,142.98 98.65,142.15 C98.72,141.32 98.80,140.48 98.89,139.65 C98.97,138.82 99.06,137.99 99.16,137.16 C99.25,136.33 99.35,135.50 99.45,134.67 C99.56,133.85 99.67,133.02 99.79,132.20 C99.90,131.37 100.03,130.55 100.16,129.73 C100.29,128.91 100.42,128.10 100.57,127.28 C100.71,126.47 100.87,125.65 101.03,124.84 C101.19,124.03 101.36,123.23 101.54,122.42 C101.71,121.62 101.90,120.81 102.09,120.01 C102.29,119.22 102.50,118.42 102.71,117.63 C102.93,116.83 103.15,116.04 103.39,115.26 C103.62,114.47 103.87,113.69 104.13,112.91 C104.38,112.13 104.65,111.36 104.93,110.59 C105.21,109.82 105.50,109.05 105.81,108.29 C106.11,107.53 106.43,106.77 106.76,106.01 C107.09,105.26 107.43,104.51 107.79,103.77 C108.15,103.02 108.52,102.28 108.90,101.55 C109.28,100.82 109.68,100.09 110.09,99.37 C110.50,98.65 110.93,97.94 111.36,97.24 C111.80,96.53 112.25,95.84 112.71,95.16 C113.18,94.48 113.66,93.80 114.15,93.15 C114.64,92.49 115.14,91.84 115.66,91.21 C116.18,90.58 116.71,89.96 117.25,89.35 C117.80,88.75 118.35,88.16 118.92,87.59 C119.49,87.02 120.08,86.47 120.67,85.93 C121.27,85.40 121.88,84.88 122.50,84.38 C123.12,83.88 123.76,83.40 124.41,82.95 C125.06,82.49 125.72,82.05 126.40,81.64 C127.07,81.23 127.76,80.84 128.46,80.47 C129.16,80.10 129.87,79.76 130.60,79.44 C131.33,79.13 132.07,78.84 132.82,78.57 C133.58,78.30 134.34,78.07 135.12,77.85 C135.90,77.63 136.69,77.44 137.48,77.27 C138.28,77.10 139.09,76.95 139.90,76.82 C140.72,76.68 141.54,76.57 142.37,76.48 C143.19,76.38 144.03,76.30 144.86,76.23 C145.69,76.17 146.53,76.11 147.37,76.07 C148.21,76.03 149.05,76.00 149.88,75.99 C150.72,75.97 151.56,75.96 152.39,75.97 C153.23,75.97 154.06,75.99 154.89,76.01 C155.72,76.04 156.55,76.08 157.38,76.12 C158.21,76.17 159.04,76.22 159.86,76.29 C160.69,76.35 161.51,76.43 162.34,76.51 C163.16,76.59 163.98,76.68 164.80,76.78 C165.63,76.88 166.45,76.99 167.27,77.11 C168.09,77.22 168.90,77.34 169.72,77.47 C170.54,77.59 171.36,77.72 172.17,77.86 C172.99,77.99 173.83,78.14 174.62,78.27 C175.41,78.41 176.03,78.52 176.91,78.68 C177.79,78.84 178.91,79.05 179.91,79.24 C180.90,79.43 181.90,79.63 182.90,79.83 C183.90,80.04 184.90,80.24 185.90,80.45 C186.90,80.66 187.90,80.87 188.90,81.08 C189.89,81.30 190.89,81.51 191.89,81.73 C192.89,81.95 193.89,82.16 194.89,82.38 C195.89,82.60 196.89,82.83 197.89,83.05 C198.89,83.27 199.89,83.49 200.89,83.71 C201.89,83.93 202.89,84.16 203.89,84.38 C204.89,84.60 205.89,84.82 206.89,85.04 C207.89,85.26 208.89,85.48 209.89,85.70 C210.89,85.91 211.89,86.13 212.89,86.35 C213.90,86.56 214.90,86.78 215.90,86.99 C216.90,87.20 217.90,87.41 218.90,87.62 C219.90,87.83 220.90,88.03 221.90,88.24 C222.90,88.44 223.90,88.64 224.90,88.84 C225.90,89.04 226.90,89.24 227.90,89.43 C228.91,89.63 229.91,89.82 230.91,90.01 C231.91,90.20 232.91,90.39 233.91,90.57 C234.91,90.75 235.91,90.93 236.91,91.11 C237.91,91.29 238.91,91.47 239.92,91.64 C240.92,91.81 241.92,91.98 242.92,92.14 C243.92,92.31 244.92,92.47 245.92,92.63 C246.92,92.79 247.92,92.95 248.92,93.10 C249.93,93.26 250.93,93.41 251.93,93.56 C252.93,93.70 253.93,93.85 254.93,93.99 C255.93,94.13 256.93,94.27 257.93,94.40 C258.93,94.54 259.94,94.67 260.94,94.80 C261.94,94.93 262.94,95.05 263.94,95.17 C264.94,95.30 265.94,95.42 266.94,95.53 C267.94,95.65 268.94,95.76 269.95,95.87 C270.95,95.98 271.95,96.09 272.95,96.19 C273.95,96.29 274.95,96.39 275.95,96.49 C276.95,96.59 277.95,96.68 278.95,96.77 C279.96,96.87 280.96,96.95 281.96,97.04 C282.96,97.13 283.96,97.21 284.96,97.29 C285.96,97.37 286.96,97.44 287.96,97.52 C288.96,97.59 289.97,97.66 290.97,97.73 C291.97,97.80 292.97,97.86 293.97,97.93 C294.97,97.99 295.97,98.05 296.97,98.11 C297.97,98.16 298.97,98.22 299.97,98.27 C300.97,98.32 301.98,98.37 302.98,98.42 C303.98,98.47 304.98,98.51 305.98,98.55 C306.98,98.60 307.98,98.63 308.98,98.67 C309.98,98.71 310.98,98.74 311.98,98.77 C312.98,98.81 313.99,98.84 314.99,98.86 C315.99,98.89 316.99,98.92 317.99,98.94 C318.99,98.96 319.99,98.98 320.99,99.00 C321.99,99.02 322.99,99.04 323.99,99.05 C324.99,99.07 325.99,99.08 326.99,99.09 C328.00,99.10 329.00,99.11 330.00,99.11 C331.00,99.12 332.00,99.12 333.00,99.13 C334.00,99.13 335.00,99.13 336.00,99.13 C337.00,99.13 338.00,99.12 339.00,99.12 C340.00,99.11 341.00,99.11 342.00,99.10 C343.00,99.09 344.01,99.08 345.01,99.07 C346.01,99.06 347.01,99.04 348.01,99.03 C349.01,99.01 350.01,99.00 351.01,98.98 C352.01,98.96 353.01,98.94 354.01,98.92 C355.01,98.90 356.01,98.88 357.01,98.86 C358.01,98.83 359.01,98.81 360.01,98.78 C361.01,98.75 362.01,98.73 363.01,98.70 C364.01,98.67 365.02,98.64 366.02,98.61 C367.02,98.58 368.02,98.54 369.02,98.51 C370.02,98.48 371.02,98.44 372.02,98.41 C373.02,98.37 374.02,98.33 375.02,98.30 C376.02,98.26 377.02,98.22 378.02,98.18 C379.02,98.14 380.02,98.10 381.02,98.06 C382.02,98.01 383.02,97.97 384.02,97.93 C385.02,97.89 386.02,97.84 387.02,97.80 C388.02,97.75 389.02,97.71 390.02,97.66 C391.02,97.61 392.02,97.57 393.02,97.52 C394.02,97.47 395.02,97.42 396.02,97.37 C397.02,97.32 398.02,97.27 399.03,97.22 C400.03,97.17 401.03,97.12 402.03,97.07 C403.03,97.02 404.03,96.97 405.03,96.91 C406.03,96.86 407.03,96.81 408.03,96.75 C409.03,96.70 410.03,96.65 411.03,96.59 C412.03,96.54 413.03,96.48 414.03,96.43 C415.03,96.37 416.03,96.32 417.03,96.26 C418.03,96.21 419.03,96.15 420.03,96.10 C421.03,96.04 422.03,95.98 423.03,95.93 C424.03,95.87 425.03,95.81 426.03,95.76 C427.03,95.70 428.03,95.64 429.03,95.59 C430.03,95.53 431.03,95.47 432.03,95.42 C433.03,95.36 434.03,95.30 435.03,95.24 C436.03,95.19 437.03,95.13 438.03,95.07 C439.03,95.02 440.03,94.96 441.03,94.90 C442.03,94.84 443.03,94.79 444.03,94.73 C445.03,94.67 446.03,94.62 447.03,94.56 C448.03,94.50 449.03,94.45 450.03,94.39 C451.03,94.33 452.03,94.28 453.03,94.22 C454.03,94.17 455.03,94.11 456.03,94.05 C457.03,94.00 458.03,93.94 459.03,93.89 C460.03,93.83 461.03,93.78 462.03,93.72 C463.03,93.67 464.03,93.62 465.03,93.56 C466.03,93.51 467.03,93.46 468.03,93.40 C469.03,93.35 470.03,93.30 471.03,93.24 C472.03,93.19 473.03,93.14 474.03,93.09 C475.03,93.04 476.03,92.99 477.03,92.94 C478.02,92.89 479.02,92.84 480.02,92.79 C481.02,92.74 482.02,92.69 483.02,92.64 C484.02,92.59 485.02,92.55 486.02,92.50 C487.02,92.45 488.02,92.40 489.02,92.36 C490.02,92.31 491.02,92.27 492.02,92.22 C493.02,92.18 494.02,92.13 495.02,92.09 C496.02,92.05 497.02,92.00 498.02,91.96 C499.02,91.92 500.02,91.88 501.02,91.84 C502.02,91.80 503.02,91.76 504.02,91.72 C505.02,91.68 506.02,91.64 507.02,91.60 C508.02,91.57 509.02,91.53 510.02,91.49 C511.02,91.46 512.02,91.42 513.02,91.39 C514.02,91.35 515.02,91.32 516.02,91.29 C517.02,91.25 518.02,91.22 519.02,91.19 C520.02,91.16 521.01,91.13 522.01,91.10 C523.01,91.07 524.01,91.04 525.01,91.01 C526.01,90.99 527.01,90.96 528.01,90.93 C529.01,90.91 530.01,90.88 531.01,90.86 C532.01,90.83 533.41,90.80 534.01,90.79 C534.61,90.78 534.51,90.78 534.61,90.78 L534.59,97.03 C534.32,97.03 533.75,97.05 532.99,97.07 C532.22,97.09 530.99,97.13 529.98,97.16 C528.98,97.19 527.98,97.22 526.98,97.25 C525.98,97.29 524.98,97.32 523.98,97.35 C522.98,97.39 521.98,97.42 520.98,97.46 C519.98,97.49 518.98,97.53 517.98,97.57 C516.98,97.61 515.98,97.64 514.98,97.68 C513.98,97.72 512.98,97.76 511.98,97.80 C510.98,97.84 509.98,97.89 508.98,97.93 C507.98,97.97 506.98,98.01 505.98,98.06 C504.98,98.10 503.98,98.15 502.98,98.19 C501.98,98.24 500.98,98.28 499.98,98.33 C498.98,98.38 497.98,98.42 496.98,98.47 C495.98,98.52 494.98,98.57 493.98,98.61 C492.98,98.66 491.98,98.71 490.98,98.76 C489.97,98.81 488.97,98.86 487.97,98.91 C486.97,98.97 485.97,99.02 484.97,99.07 C483.97,99.12 482.97,99.17 481.97,99.23 C480.97,99.28 479.97,99.33 478.97,99.39 C477.97,99.44 476.97,99.49 475.97,99.55 C474.97,99.60 473.97,99.66 472.97,99.71 C471.97,99.77 470.97,99.82 469.97,99.88 C468.97,99.94 467.97,99.99 466.97,100.05 C465.97,100.11 464.97,100.16 463.97,100.22 C462.97,100.28 461.97,100.33 460.97,100.39 C459.97,100.45 458.97,100.50 457.97,100.56 C456.97,100.62 455.97,100.68 454.97,100.74 C453.97,100.79 452.97,100.85 451.97,100.91 C450.97,100.97 449.97,101.02 448.97,101.08 C447.97,101.14 446.97,101.20 445.97,101.26 C444.97,101.31 443.97,101.37 442.97,101.43 C441.97,101.49 440.97,101.55 439.97,101.60 C438.97,101.66 437.97,101.72 436.97,101.78 C435.97,101.83 434.97,101.89 433.97,101.95 C432.97,102.01 431.97,102.06 430.97,102.12 C429.97,102.18 428.97,102.23 427.97,102.29 C426.97,102.34 425.97,102.40 424.97,102.46 C423.97,102.51 422.97,102.57 421.97,102.62 C420.97,102.68 419.97,102.73 418.97,102.78 C417.97,102.84 416.97,102.89 415.97,102.94 C414.97,103.00 413.97,103.05 412.97,103.10 C411.97,103.15 410.97,103.21 409.97,103.26 C408.97,103.31 407.97,103.36 406.98,103.41 C405.98,103.46 404.98,103.51 403.98,103.56 C402.98,103.60 401.98,103.65 400.98,103.70 C399.98,103.75 398.98,103.79 397.98,103.84 C396.98,103.88 395.98,103.93 394.98,103.97 C393.98,104.02 392.98,104.06 391.98,104.10 C390.98,104.14 389.98,104.19 388.98,104.23 C387.98,104.27 386.98,104.31 385.98,104.35 C384.98,104.39 383.98,104.42 382.98,104.46 C381.98,104.50 380.98,104.53 379.98,104.57 C378.98,104.60 377.98,104.64 376.98,104.67 C375.98,104.70 374.98,104.73 373.98,104.76 C372.99,104.79 371.99,104.82 370.99,104.85 C369.99,104.88 368.99,104.90 367.99,104.93 C366.99,104.95 365.99,104.98 364.99,105.00 C363.99,105.02 362.99,105.05 361.99,105.07 C360.99,105.09 359.99,105.10 358.99,105.12 C357.99,105.14 356.99,105.16 355.99,105.17 C354.99,105.18 353.99,105.20 352.99,105.21 C351.99,105.22 351.00,105.23 350.00,105.24 C349.00,105.25 348.00,105.25 347.00,105.26 C346.00,105.26 345.00,105.27 344.00,105.27 C343.00,105.27 342.00,105.27 341.00,105.27 C340.00,105.26 339.00,105.26 338.00,105.26 C337.00,105.25 336.00,105.24 335.00,105.23 C334.01,105.22 333.01,105.21 332.01,105.20 C331.01,105.19 330.01,105.17 329.01,105.16 C328.01,105.14 327.01,105.12 326.01,105.10 C325.01,105.08 324.01,105.06 323.01,105.03 C322.01,105.01 321.01,104.98 320.01,104.95 C319.02,104.92 318.02,104.89 317.02,104.86 C316.02,104.83 315.02,104.79 314.02,104.75 C313.02,104.71 312.02,104.68 311.02,104.63 C310.02,104.59 309.02,104.55 308.02,104.50 C307.02,104.45 306.02,104.41 305.03,104.35 C304.03,104.30 303.03,104.25 302.03,104.19 C301.03,104.14 300.03,104.08 299.03,104.02 C298.03,103.96 297.03,103.89 296.03,103.83 C295.03,103.76 294.03,103.70 293.04,103.63 C292.04,103.55 291.04,103.48 290.04,103.41 C289.04,103.33 288.04,103.25 287.04,103.17 C286.04,103.09 285.04,103.01 284.04,102.92 C283.04,102.84 282.04,102.75 281.05,102.66 C280.05,102.57 279.05,102.47 278.05,102.38 C277.05,102.28 276.05,102.18 275.05,102.08 C274.05,101.98 273.05,101.88 272.05,101.77 C271.05,101.66 270.05,101.55 269.06,101.44 C268.06,101.33 267.06,101.22 266.06,101.10 C265.06,100.98 264.06,100.86 263.06,100.74 C262.06,100.62 261.06,100.49 260.06,100.37 C259.06,100.24 258.07,100.11 257.07,99.97 C256.07,99.84 255.07,99.71 254.07,99.57 C253.07,99.43 252.07,99.29 251.07,99.15 C250.07,99.00 249.07,98.86 248.07,98.71 C247.07,98.56 246.07,98.41 245.08,98.26 C244.08,98.10 243.08,97.95 242.08,97.79 C241.08,97.63 240.08,97.47 239.08,97.31 C238.08,97.15 237.08,96.98 236.08,96.81 C235.08,96.65 234.08,96.48 233.08,96.30 C232.09,96.13 231.09,95.96 230.09,95.78 C229.09,95.61 228.09,95.43 227.09,95.25 C226.09,95.07 225.09,94.89 224.09,94.71 C223.09,94.52 222.09,94.34 221.09,94.15 C220.09,93.96 219.09,93.77 218.09,93.58 C217.09,93.40 216.09,93.20 215.09,93.01 C214.09,92.82 213.10,92.63 212.10,92.43 C211.10,92.24 210.10,92.04 209.10,91.84 C208.10,91.65 207.10,91.45 206.10,91.25 C205.10,91.06 204.10,90.86 203.10,90.66 C202.10,90.46 201.10,90.26 200.10,90.07 C199.10,89.87 198.10,89.67 197.10,89.47 C196.10,89.27 195.10,89.08 194.10,88.88 C193.10,88.68 192.10,88.49 191.09,88.30 C190.09,88.10 189.09,87.91 188.09,87.72 C187.09,87.53 186.09,87.34 185.09,87.15 C184.09,86.97 183.09,86.78 182.09,86.60 C181.09,86.42 180.09,86.24 179.09,86.07 C178.08,85.90 176.90,85.69 176.08,85.56 C175.26,85.42 174.90,85.36 174.17,85.25 C173.44,85.14 172.53,84.99 171.71,84.87 C170.89,84.75 170.07,84.63 169.25,84.52 C168.43,84.40 167.61,84.29 166.79,84.18 C165.97,84.08 165.15,83.97 164.33,83.87 C163.52,83.77 162.70,83.68 161.88,83.59 C161.07,83.50 160.25,83.41 159.43,83.32 C158.62,83.24 157.81,83.16 156.99,83.09 C156.18,83.02 155.37,82.95 154.56,82.89 C153.75,82.83 152.94,82.77 152.14,82.73 C151.33,82.69 150.53,82.66 149.72,82.64 C148.92,82.62 148.12,82.61 147.32,82.62 C146.52,82.63 145.73,82.64 144.93,82.68 C144.14,82.71 143.35,82.76 142.56,82.83 C141.77,82.90 140.98,82.99 140.20,83.10 C139.42,83.20 138.64,83.33 137.86,83.47 C137.09,83.62 136.32,83.79 135.55,83.97 C134.78,84.16 134.02,84.37 133.26,84.60 C132.50,84.83 131.74,85.08 130.99,85.36 C130.24,85.64 129.49,85.93 128.75,86.26 C128.01,86.58 127.27,86.93 126.54,87.30 C125.81,87.68 125.08,88.08 124.36,88.51 C123.64,88.93 122.93,89.39 122.23,89.86 C121.53,90.34 120.84,90.84 120.18,91.37 C119.51,91.89 118.85,92.44 118.23,93.01 C117.60,93.58 116.99,94.17 116.41,94.78 C115.84,95.40 115.29,96.03 114.77,96.68 C114.24,97.33 113.75,98.00 113.29,98.69 C112.82,99.37 112.38,100.07 111.96,100.78 C111.54,101.49 111.14,102.22 110.76,102.96 C110.39,103.69 110.03,104.44 109.69,105.20 C109.35,105.95 109.02,106.72 108.71,107.49 C108.40,108.26 108.11,109.04 107.82,109.82 C107.54,110.60 107.27,111.38 107.00,112.17 C106.73,112.96 106.48,113.74 106.23,114.53 C105.98,115.32 105.73,116.11 105.49,116.90 C105.25,117.69 105.02,118.48 104.80,119.27 C104.57,120.07 104.35,120.86 104.13,121.65 C103.92,122.45 103.71,123.24 103.51,124.04 C103.30,124.83 103.11,125.63 102.91,126.42 C102.72,127.22 102.53,128.02 102.35,128.81 C102.17,129.61 102.00,130.41 101.82,131.21 C101.65,132.01 101.49,132.81 101.33,133.61 C101.16,134.41 101.01,135.21 100.86,136.01 C100.71,136.82 100.56,137.62 100.42,138.42 C100.28,139.22 100.14,140.03 100.01,140.83 C99.87,141.64 99.75,142.44 99.62,143.25 C99.50,144.05 99.38,144.86 99.26,145.66 C99.15,146.47 99.04,147.28 98.93,148.09 C98.82,148.89 98.72,149.70 98.62,150.51 C98.52,151.32 98.42,152.13 98.33,152.94 C98.24,153.75 98.15,154.56 98.06,155.37 C97.98,156.18 97.90,156.99 97.82,157.80 C97.74,158.61 97.67,159.42 97.60,160.23 C97.53,161.05 97.46,161.86 97.39,162.67 C97.33,163.49 97.26,164.30 97.20,165.11 C97.15,165.93 97.09,166.74 97.03,167.55 C96.98,168.37 96.93,169.18 96.88,170.00 C96.83,170.81 96.79,171.63 96.74,172.44 C96.70,173.26 96.66,174.08 96.62,174.89 C96.58,175.71 96.54,176.52 96.51,177.34 C96.47,178.16 96.44,178.97 96.41,179.79 C96.38,180.61 96.35,181.42 96.32,182.24 C96.29,183.06 96.27,183.88 96.24,184.69 C96.22,185.51 96.19,186.33 96.17,187.15 C96.14,187.96 96.12,188.78 96.10,189.60 C96.07,190.41 96.05,191.23 96.02,192.05 C96.00,192.87 95.97,193.68 95.94,194.50 C95.92,195.31 95.89,196.13 95.86,196.95 C95.83,197.76 95.80,198.58 95.76,199.39 C95.73,200.21 95.69,201.02 95.65,201.84 C95.61,202.65 95.57,203.47 95.52,204.28 C95.47,205.09 95.43,205.90 95.37,206.72 C95.32,207.53 95.26,208.34 95.20,209.15 C95.14,209.96 95.07,210.77 95.00,211.58 C94.93,212.39 94.85,213.20 94.77,214.01 C94.69,214.82 94.55,216.03 94.50,216.44 Z" fill="rgba(255,0,0,0.77)" stroke="none"/>
<path d="M95.72,216.54 C95.68,216.12 95.55,214.83 95.48,213.99 C95.41,213.14 95.34,212.29 95.29,211.45 C95.24,210.61 95.19,209.77 95.15,208.94 C95.11,208.10 95.08,207.26 95.06,206.43 C95.03,205.60 95.01,204.77 95.00,203.94 C94.99,203.12 94.99,202.29 94.99,201.47 C94.99,200.64 95.00,199.82 95.01,199.00 C95.02,198.18 95.04,197.36 95.06,196.54 C95.08,195.72 95.11,194.90 95.14,194.09 C95.17,193.27 95.20,192.46 95.24,191.64 C95.28,190.83 95.32,190.01 95.37,189.20 C95.41,188.38 95.46,187.57 95.51,186.76 C95.57,185.95 95.62,185.13 95.67,184.32 C95.73,183.51 95.79,182.70 95.85,181.88 C95.91,181.07 95.97,180.26 96.03,179.44 C96.09,178.63 96.15,177.81 96.22,177.00 C96.28,176.18 96.34,175.37 96.41,174.55 C96.47,173.73 96.53,172.91 96.59,172.10 C96.66,171.28 96.72,170.46 96.78,169.63 C96.84,168.81 96.90,167.99 96.96,167.16 C97.01,166.34 97.07,165.51 97.12,164.68 C97.18,163.85 97.23,163.02 97.28,162.19 C97.33,161.36 97.38,160.53 97.43,159.70 C97.48,158.86 97.53,158.03 97.58,157.19 C97.63,156.36 97.68,155.52 97.73,154.69 C97.79,153.85 97.84,153.02 97.89,152.18 C97.95,151.34 98.00,150.51 98.06,149.67 C98.12,148.83 98.17,148.00 98.24,147.16 C98.30,146.32 98.36,145.49 98.43,144.65 C98.50,143.82 98.57,142.98 98.65,142.15 C98.72,141.32 98.80,140.48 98.89,139.65 C98.97,138.82 99.06,137.99 99.16,137.16 C99.25,136.33 99.35,135.50 99.45,134.67 C99.56,133.85 99.67,133.02 99.79,132.20 C99.90,131.37 100.03,130.55 100.16,129.73 C100.29,128.91 100.42,128.10 100.57,127.28 C100.71,126.47 100.87,125.65 101.03,124.84 C101.19,124.03 101.36,123.23 101.54,122.42 C101.71,121.62 101.90,120.81 102.09,120.01 C102.29,119.22 102.50,118.42 102.71,117.63 C102.93,116.83 103.15,116.04 103.39,115.26 C103.62,114.47 103.87,113.69 104.13,112.91 C104.38,112.13 104.65,111.36 104.93,110.59 C105.21,109.82 105.50,109.05 105.81,108.29 C106.11,107.53 106.43,106.77 106.76,106.01 C107.09,105.26 107.43,104.51 107.79,103.77 C108.15,103.02 108.52,102.28 108.90,101.55 C109.28,100.82 109.68,100.09 110.09,99.37 C110.50,98.65 110.93,97.94 111.36,97.24 C111.80,96.53 112.25,95.84 112.71,95.16 C113.18,94.48 113.66,93.80 114.15,93.15 C114.64,92.49 115.14,91.84 115.66,91.21 C116.18,90.58 116.71,89.96 117.25,89.35 C117.80,88.75 118.35,88.16 118.92,87.59 C119.49,87.02 120.08,86.47 120.67,85.93 C121.27,85.40 121.88,84.88 122.50,84.38 C123.12,83.88 123.76,83.40 124.41,82.95 C125.06,82.49 125.72,82.05 126.40,81.64 C127.07,81.23 127.76,80.84 128.46,80.47 C129.16,80.10 129.87,79.76 130.60,79.44 C131.33,79.13 132.07,78.84 132.82,78.57 C133.58,78.30 134.34,78.07 135.12,77.85 C135.90,77.63 136.69,77.44 137.48,77.27 C138.28,77.10 139.09,76.95 139.90,76.82 C140.72,76.68 141.54,76.57 142.37,76.48 C143.19,76.38 144.03,76.30 144.86,76.23 C145.69,76.17 146.53,76.11 147.37,76.07 C148.21,76.03 149.05,76.00 149.88,75.99 C150.72,75.97 151.56,75.96 152.39,75.97 C153.23,75.97 154.06,75.99 154.89,76.01 C155.72,76.04 156.55,76.08 157.38,76.12 C158.21,76.17 159.04,76.22 159.86,76.29 C160.69,76.35 161.51,76.43 162.34,76.51 C163.16,76.59 163.98,76.68 164.80,76.78 C165.63,76.88 166.45,76.99 167.27,77.11 C168.09,77.22 168.90,77.34 169.72,77.47 C170.54,77.59 171.36,77.72 172.17,77.86 C172.99,77.99 173.83,78.14 174.62,78.27 C175.41,78.41 176.03,78.52 176.91,78.68 C177.79,78.84 178.91,79.05 179.91,79.24 C180.90,79.43 181.90,79.63 182.90,79.83 C183.90,80.04 184.90,80.24 185.90,80.45 C186.90,80.66 187.90,80.87 188.90,81.08 C189.89,81.30 190.89,81.51 191.89,81.73 C192.89,81.95 193.89,82.16 194.89,82.38 C195.89,82.60 196.89,82.83 197.89,83.05 C198.89,83.27 199.89,83.49 200.89,83.71 C201.89,83.93 202.89,84.16 203.89,84.38 C204.89,84.60 205.89,84.82 206.89,85.04 C207.89,85.26 208.89,85.48 209.89,85.70 C210.89,85.91 211.89,86.13 212.89,86.35 C213.90,86.56 214.90,86.78 215.90,86.99 C216.90,87.20 217.90,87.41 218.90,87.62 C219.90,87.83 220.90,88.03 221.90,88.24 C222.90,88.44 223.90,88.64 224.90,88.84 C225.90,89.04 226.90,89.24 227.90,89.43 C228.91,89.63 229.91,89.82 230.91,90.01 C231.91,90.20 232.91,90.39 233.91,90.57 C234.91,90.75 235.91,90.93 236.91,91.11 C237.91,91.29 238.91,91.47 239.92,91.64 C240.92,91.81 241.92,91.98 242.92,92.14 C243.92,92.31 244.92,92.47 245.92,92.63 C246.92,92.79 247.92,92.95 248.92,93.10 C249.93,93.26 250.93,93.41 251.93,93.56 C252.93,93.70 253.93,93.85 254.93,93.99 C255.93,94.13 256.93,94.27 257.93,94.40 C258.93,94.54 259.94,94.67 260.94,94.80 C261.94,94.93 262.94,95.05 263.94,95.17 C264.94,95.30 265.94,95.42 266.94,95.53 C267.94,95.65 268.94,95.76 269.95,95.87 C270.95,95.98 271.95,96.09 272.95,96.19 C273.95,96.29 274.95,96.39 275.95,96.49 C276.95,96.59 277.95,96.68 278.95,96.77 C279.96,96.87 280.96,96.95 281.96,97.04 C282.96,97.13 283.96,97.21 284.96,97.29 C285.96,97.37 286.96,97.44 287.96,97.52 C288.96,97.59 289.97,97.66 290.97,97.73 C291.97,97.80 292.97,97.86 293.97,97.93 C294.97,97.99 295.97,98.05 296.97,98.11 C297.97,98.16 298.97,98.22 299.97,98.27 C300.97,98.32 301.98,98.37 302.98,98.42 C303.98,98.47 304.98,98.51 305.98,98.55 C306.98,98.60 307.98,98.63 308.98,98.67 C309.98,98.71 310.98,98.74 311.98,98.77 C312.98,98.81 313.99,98.84 314.99,98.86 C315.99,98.89 316.99,98.92 317.99,98.94 C318.99,98.96 319.99,98.98 320.99,99.00 C321.99,99.02 322.99,99.04 323.99,99.05 C324.99,99.07 325.99,99.08 326.99,99.09 C328.00,99.10 329.00,99.11 330.00,99.11 C331.00,99.12 332.00,99.12 333.00,99.13 C334.00,99.13 335.00,99.13 336.00,99.13 C337.00,99.13 338.00,99.12 339.00,99.12 C340.00,99.11 341.00,99.11 342.00,99.10 C343.00,99.09 344.01,99.08 345.01,99.07 C346.01,99.06 347.01,99.04 348.01,99.03 C349.01,99.01 350.01,99.00 351.01,98.98 C352.01,98.96 353.01,98.94 354.01,98.92 C355.01,98.90 356.01,98.88 357.01,98.86 C358.01,98.83 359.01,98.81 360.01,98.78 C361.01,98.75 362.01,98.73 363.01,98.70 C364.01,98.67 365.02,98.64 366.02,98.61 C367.02,98.58 368.02,98.54 369.02,98.51 C370.02,98.48 371.02,98.44 372.02,98.41 C373.02,98.37 374.02,98.33 375.02,98.30 C376.02,98.26 377.02,98.22 378.02,98.18 C379.02,98.14 380.02,98.10 381.02,98.06 C382.02,98.01 383.02,97.97 384.02,97.93 C385.02,97.89 386.02,97.84 387.02,97.80 C388.02,97.75 389.02,97.71 390.02,97.66 C391.02,97.61 392.02,97.57 393.02,97.52 C394.02,97.47 395.02,97.42 396.02,97.37 C397.02,97.32 398.02,97.27 399.03,97.22 C400.03,97.17 401.03,97.12 402.03,97.07 C403.03,97.02 404.03,96.97 405.03,96.91 C406.03,96.86 407.03,96.81 408.03,96.75 C409.03,96.70 410.03,96.65 411.03,96.59 C412.03,96.54 413.03,96.48 414.03,96.43 C415.03,96.37 416.03,96.32 417.03,96.26 C418.03,96.21 419.03,96.15 420.03,96.10 C421.03,96.04 422.03,95.98 423.03,95.93 C424.03,95.87 425.03,95.81 426.03,95.76 C427.03,95.70 428.03,95.64 429.03,95.59 C430.03,95.53 431.03,95.47 432.03,95.42 C433.03,95.36 434.03,95.30 435.03,95.24 C436.03,95.19 437.03,95.13 438.03,95.07 C439.03,95.02 440.03,94.96 441.03,94.90 C442.03,94.84 443.03,94.79 444.03,94.73 C445.03,94.67 446.03,94.62 447.03,94.56 C448.03,94.50 449.03,94.45 450.03,94.39 C451.03,94.33 452.03,94.28 453.03,94.22 C454.03,94.17 455.03,94.11 456.03,94.05 C457.03,94.00 458.03,93.94 459.03,93.89 C460.03,93.83 461.03,93.78 462.03,93.72 C463.03,93.67 464.03,93.62 465.03,93.56 C466.03,93.51 467.03,93.46 468.03,93.40 C469.03,93.35 470.03,93.30 471.03,93.24 C472.03,93.19 473.03,93.14 474.03,93.09 C475.03,93.04 476.03,92.99 477.03,92.94 C478.02,92.89 479.02,92.84 480.02,92.79 C481.02,92.74 482.02,92.69 483.02,92.64 C484.02,92.59 485.02,92.55 486.02,92.50 C487.02,92.45 488.02,92.40 489.02,92.36 C490.02,92.31 491.02,92.27 492.02,92.22 C493.02,92.18 494.02,92.13 495.02,92.09 C496.02,92.05 497.02,92.00 498.02,91.96 C499.02,91.92 500.02,91.88 501.02,91.84 C502.02,91.80 503.02,91.76 504.02,91.72 C505.02,91.68 506.02,91.64 507.02,91.60 C508.02,91.57 509.02,91.53 510.02,91.49 C511.02,91.46 512.02,91.42 513.02,91.39 C514.02,91.35 515.02,91.32 516.02,91.29 C517.02,91.25 518.02,91.22 519.02,91.19 C520.02,91.16 521.01,91.13 522.01,91.10 C523.01,91.07 524.01,91.04 525.01,91.01 C526.01,90.99 527.01,90.96 528.01,90.93 C529.01,90.91 530.01,90.88 531.01,90.86 C532.01,90.83 533.41,90.80 534.01,90.79 C534.61,90.78 534.51,90.78 534.61,90.78" fill="none" stroke="#ff0000" stroke-width="0.9"/>
<path d="M94.50,216.44 C94.55,216.03 94.69,214.82 94.77,214.01 C94.85,213.20 94.93,212.39 95.00,211.58 C95.07,210.77 95.14,209.96 95.20,209.15 C95.26,208.34 95.32,207.53 95.37,206.72 C95.43,205.90 95.47,205.09 95.52,204.28 C95.57,203.47 95.61,202.65 95.65,201.84 C95.69,201.02 95.73,200.21 95.76,199.39 C95.80,198.58 95.83,197.76 95.86,196.95 C95.89,196.13 95.92,195.31 95.94,194.50 C95.97,193.68 96.00,192.87 96.02,192.05 C96.05,191.23 96.07,190.41 96.10,189.60 C96.12,188.78 96.14,187.96 96.17,187.15 C96.19,186.33 96.22,185.51 96.24,184.69 C96.27,183.88 96.29,183.06 96.32,182.24 C96.35,181.42 96.38,180.61 96.41,179.79 C96.44,178.97 96.47,178.16 96.51,177.34 C96.54,176.52 96.58,175.71 96.62,174.89 C96.66,174.08 96.70,173.26 96.74,172.44 C96.79,171.63 96.83,170.81 96.88,170.00 C96.93,169.18 96.98,168.37 97.03,167.55 C97.09,166.74 97.15,165.93 97.20,165.11 C97.26,164.30 97.33,163.49 97.39,162.67 C97.46,161.86 97.53,161.05 97.60,160.23 C97.67,159.42 97.74,158.61 97.82,157.80 C97.90,156.99 97.98,156.18 98.06,155.37 C98.15,154.56 98.24,153.75 98.33,152.94 C98.42,152.13 98.52,151.32 98.62,150.51 C98.72,149.70 98.82,148.89 98.93,148.09 C99.04,147.28 99.15,146.47 99.26,145.66 C99.38,144.86 99.50,144.05 99.62,143.25 C99.75,142.44 99.87,141.64 100.01,140.83 C100.14,140.03 100.28,139.22 100.42,138.42 C100.56,137.62 100.71,136.82 100.86,136.01 C101.01,135.21 101.16,134.41 101.33,133.61 C101.49,132.81 101.65,132.01 101.82,131.21 C102.00,130.41 102.17,129.61 102.35,128.81 C102.53,128.02 102.72,127.22 102.91,126.42 C103.11,125.63 103.30,124.83 103.51,124.04 C103.71,123.24 103.92,122.45 104.13,121.65 C104.35,120.86 104.57,120.07 104.80,119.27 C105.02,118.48 105.25,117.69 105.49,116.90 C105.73,116.11 105.98,115.32 106.23,114.53 C106.48,113.74 106.73,112.96 107.00,112.17 C107.27,111.38 107.54,110.60 107.82,109.82 C108.11,109.04 108.40,108.26 108.71,107.49 C109.02,106.72 109.35,105.95 109.69,105.20 C110.03,104.44 110.39,103.69 110.76,102.96 C111.14,102.22 111.54,101.49 111.96,100.78 C112.38,100.07 112.82,99.37 113.29,98.69 C113.75,98.00 114.24,97.33 114.77,96.68 C115.29,96.03 115.84,95.40 116.41,94.78 C116.99,94.17 117.60,93.58 118.23,93.01 C118.85,92.44 119.51,91.89 120.18,91.37 C120.84,90.84 121.53,90.34 122.23,89.86 C122.93,89.39 123.64,88.93 124.36,88.51 C125.08,88.08 125.81,87.68 126.54,87.30 C127.27,86.93 128.01,86.58 128.75,86.26 C129.49,85.93 130.24,85.64 130.99,85.36 C131.74,85.08 132.50,84.83 133.26,84.60 C134.02,84.37 134.78,84.16 135.55,83.97 C136.32,83.79 137.09,83.62 137.86,83.47 C138.64,83.33 139.42,83.20 140.20,83.10 C140.98,82.99 141.77,82.90 142.56,82.83 C143.35,82.76 144.14,82.71 144.93,82.68 C145.73,82.64 146.52,82.63 147.32,82.62 C148.12,82.61 148.92,82.62 149.72,82.64 C150.53,82.66 151.33,82.69 152.14,82.73 C152.94,82.77 153.75,82.83 154.56,82.89 C155.37,82.95 156.18,83.02 156.99,83.09 C157.81,83.16 158.62,83.24 159.43,83.32 C160.25,83.41 161.07,83.50 161.88,83.59 C162.70,83.68 163.52,83.77 164.33,83.87 C165.15,83.97 165.97,84.08 166.79,84.18 C167.61,84.29 168.43,84.40 169.25,84.52 C170.07,84.63 170.89,84.75 171.71,84.87 C172.53,84.99 173.44,85.14 174.17,85.25 C174.90,85.36 175.26,85.42 176.08,85.56 C176.90,85.69 178.08,85.90 179.09,86.07 C180.09,86.24 181.09,86.42 182.09,86.60 C183.09,86.78 184.09,86.97 185.09,87.15 C186.09,87.34 187.09,87.53 188.09,87.72 C189.09,87.91 190.09,88.10 191.09,88.30 C192.10,88.49 193.10,88.68 194.10,88.88 C195.10,89.08 196.10,89.27 197.10,89.47 C198.10,89.67 199.10,89.87 200.10,90.07 C201.10,90.26 202.10,90.46 203.10,90.66 C204.10,90.86 205.10,91.06 206.10,91.25 C207.10,91.45 208.10,91.65 209.10,91.84 C210.10,92.04 211.10,92.24 212.10,92.43 C213.10,92.63 214.09,92.82 215.09,93.01 C216.09,93.20 217.09,93.40 218.09,93.58 C219.09,93.77 220.09,93.96 221.09,94.15 C222.09,94.34 223.09,94.52 224.09,94.71 C225.09,94.89 226.09,95.07 227.09,95.25 C228.09,95.43 229.09,95.61 230.09,95.78 C231.09,95.96 232.09,96.13 233.08,96.30 C234.08,96.48 235.08,96.65 236.08,96.81 C237.08,96.98 238.08,97.15 239.08,97.31 C240.08,97.47 241.08,97.63 242.08,97.79 C243.08,97.95 244.08,98.10 245.08,98.26 C246.07,98.41 247.07,98.56 248.07,98.71 C249.07,98.86 250.07,99.00 251.07,99.15 C252.07,99.29 253.07,99.43 254.07,99.57 C255.07,99.71 256.07,99.84 257.07,99.97 C258.07,100.11 259.06,100.24 260.06,100.37 C261.06,100.49 262.06,100.62 263.06,100.74 C264.06,100.86 265.06,100.98 266.06,101.10 C267.06,101.22 268.06,101.33 269.06,101.44 C270.05,101.55 271.05,101.66 272.05,101.77 C273.05,101.88 274.05,101.98 275.05,102.08 C276.05,102.18 277.05,102.28 278.05,102.38 C279.05,102.47 280.05,102.57 281.05,102.66 C282.04,102.75 283.04,102.84 284.04,102.92 C285.04,103.01 286.04,103.09 287.04,103.17 C288.04,103.25 289.04,103.33 290.04,103.41 C291.04,103.48 292.04,103.55 293.04,103.63 C294.03,103.70 295.03,103.76 296.03,103.83 C297.03,103.89 298.03,103.96 299.03,104.02 C300.03,104.08 301.03,104.14 302.03,104.19 C303.03,104.25 304.03,104.30 305.03,104.35 C306.02,104.41 307.02,104.45 308.02,104.50 C309.02,104.55 310.02,104.59 311.02,104.63 C312.02,104.68 313.02,104.71 314.02,104.75 C315.02,104.79 316.02,104.83 317.02,104.86 C318.02,104.89 319.02,104.92 320.01,104.95 C321.01,104.98 322.01,105.01 323.01,105.03 C324.01,105.06 325.01,105.08 326.01,105.10 C327.01,105.12 328.01,105.14 329.01,105.16 C330.01,105.17 331.01,105.19 332.01,105.20 C333.01,105.21 334.01,105.22 335.00,105.23 C336.00,105.24 337.00,105.25 338.00,105.26 C339.00,105.26 340.00,105.26 341.00,105.27 C342.00,105.27 343.00,105.27 344.00,105.27 C345.00,105.27 346.00,105.26 347.00,105.26 C348.00,105.25 349.00,105.25 350.00,105.24 C351.00,105.23 351.99,105.22 352.99,105.21 C353.99,105.20 354.99,105.18 355.99,105.17 C356.99,105.16 357.99,105.14 358.99,105.12 C359.99,105.10 360.99,105.09 361.99,105.07 C362.99,105.05 363.99,105.02 364.99,105.00 C365.99,104.98 366.99,104.95 367.99,104.93 C368.99,104.90 369.99,104.88 370.99,104.85 C371.99,104.82 372.99,104.79 373.98,104.76 C374.98,104.73 375.98,104.70 376.98,104.67 C377.98,104.64 378.98,104.60 379.98,104.57 C380.98,104.53 381.98,104.50 382.98,104.46 C383.98,104.42 384.98,104.39 385.98,104.35 C386.98,104.31 387.98,104.27 388.98,104.23 C389.98,104.19 390.98,104.14 391.98,104.10 C392.98,104.06 393.98,104.02 394.98,103.97 C395.98,103.93 396.98,103.88 397.98,103.84 C398.98,103.79 399.98,103.75 400.98,103.70 C401.98,103.65 402.98,103.60 403.98,103.56 C404.98,103.51 405.98,103.46 406.98,103.41 C407.97,103.36 408.97,103.31 409.97,103.26 C410.97,103.21 411.97,103.15 412.97,103.10 C413.97,103.05 414.97,103.00 415.97,102.94 C416.97,102.89 417.97,102.84 418.97,102.78 C419.97,102.73 420.97,102.68 421.97,102.62 C422.97,102.57 423.97,102.51 424.97,102.46 C425.97,102.40 426.97,102.34 427.97,102.29 C428.97,102.23 429.97,102.18 430.97,102.12 C431.97,102.06 432.97,102.01 433.97,101.95 C434.97,101.89 435.97,101.83 436.97,101.78 C437.97,101.72 438.97,101.66 439.97,101.60 C440.97,101.55 441.97,101.49 442.97,101.43 C443.97,101.37 444.97,101.31 445.97,101.26 C446.97,101.20 447.97,101.14 448.97,101.08 C449.97,101.02 450.97,100.97 451.97,100.91 C452.97,100.85 453.97,100.79 454.97,100.74 C455.97,100.68 456.97,100.62 457.97,100.56 C458.97,100.50 459.97,100.45 460.97,100.39 C461.97,100.33 462.97,100.28 463.97,100.22 C464.97,100.16 465.97,100.11 466.97,100.05 C467.97,99.99 468.97,99.94 469.97,99.88 C470.97,99.82 471.97,99.77 472.97,99.71 C473.97,99.66 474.97,99.60 475.97,99.55 C476.97,99.49 477.97,99.44 478.97,99.39 C479.97,99.33 480.97,99.28 481.97,99.23 C482.97,99.17 483.97,99.12 484.97,99.07 C485.97,99.02 486.97,98.97 487.97,98.91 C488.97,98.86 489.97,98.81 490.98,98.76 C491.98,98.71 492.98,98.66 493.98,98.61 C494.98,98.57 495.98,98.52 496.98,98.47 C497.98,98.42 498.98,98.38 499.98,98.33 C500.98,98.28 501.98,98.24 502.98,98.19 C503.98,98.15 504.98,98.10 505.98,98.06 C506.98,98.01 507.98,97.97 508.98,97.93 C509.98,97.89 510.98,97.84 511.98,97.80 C512.98,97.76 513.98,97.72 514.98,97.68 C515.98,97.64 516.98,97.61 517.98,97.57 C518.98,97.53 519.98,97.49 520.98,97.46 C521.98,97.42 522.98,97.39 523.98,97.35 C524.98,97.32 525.98,97.29 526.98,97.25 C527.98,97.22 528.98,97.19 529.98,97.16 C530.99,97.13 532.22,97.09 532.99,97.07 C533.75,97.05 534.32,97.03 534.59,97.03" fill="none" stroke="#ff0000" stroke-width="0.9"/>
<line x1="94.30" y1="103.20" x2="145.70" y2="103.20" stroke="#000" stroke-width="1.3"/>
<line x1="94.30" y1="100.60" x2="94.30" y2="105.80" stroke="#000" stroke-width="1.3"/>
<line x1="145.70" y1="100.60" x2="145.70" y2="105.80" stroke="#000" stroke-width="1.3"/>
<line x1="120.60" y1="91.40" x2="120.60" y2="114.60" stroke="#000" stroke-width="1.2"/>
<line x1="117.75" y1="91.40" x2="123.45" y2="91.40" stroke="#000" stroke-width="1.3499999999999999"/>
<line x1="117.75" y1="114.60" x2="123.45" y2="114.60" stroke="#000" stroke-width="1.3499999999999999"/>
<circle cx="120.60" cy="103.70" r="2.95" fill="#000"/>
<line x1="145.70" y1="82.50" x2="200.50" y2="82.50" stroke="#000" stroke-width="1.3"/>
<line x1="145.70" y1="79.90" x2="145.70" y2="85.10" stroke="#000" stroke-width="1.3"/>
<line x1="200.50" y1="79.90" x2="200.50" y2="85.10" stroke="#000" stroke-width="1.3"/>
<line x1="173.50" y1="70.30" x2="173.50" y2="94.80" stroke="#000" stroke-width="1.2"/>
<line x1="170.65" y1="70.30" x2="176.35" y2="70.30" stroke="#000" stroke-width="1.3499999999999999"/>
<line x1="170.65" y1="94.80" x2="176.35" y2="94.80" stroke="#000" stroke-width="1.3499999999999999"/>
<circle cx="173.50" cy="83.00" r="2.95" fill="#000"/>
<line x1="200.50" y1="95.20" x2="255.50" y2="95.20" stroke="#000" stroke-width="1.3"/>
<line x1="200.50" y1="92.60" x2="200.50" y2="97.80" stroke="#000" stroke-width="1.3"/>
<line x1="255.50" y1="92.60" x2="255.50" y2="97.80" stroke="#000" stroke-width="1.3"/>
<line x1="228.00" y1="83.50" x2="228.00" y2="106.70" stroke="#000" stroke-width="1.2"/>
<line x1="225.15" y1="83.50" x2="230.85" y2="83.50" stroke="#000" stroke-width="1.3499999999999999"/>
<line x1="225.15" y1="106.70" x2="230.85" y2="106.70" stroke="#000" stroke-width="1.3499999999999999"/>
<circle cx="228.00" cy="95.70" r="2.95" fill="#000"/>
<line x1="255.50" y1="101.00" x2="310.60" y2="101.00" stroke="#000" stroke-width="1.3"/>
<line x1="255.50" y1="98.40" x2="255.50" y2="103.60" stroke="#000" stroke-width="1.3"/>
<line x1="310.60" y1="98.40" x2="310.60" y2="103.60" stroke="#000" stroke-width="1.3"/>
<line x1="282.80" y1="89.60" x2="282.80" y2="112.40" stroke="#000" stroke-width="1.2"/>
<line x1="279.95" y1="89.60" x2="285.65" y2="89.60" stroke="#000" stroke-width="1.3499999999999999"/>
<line x1="279.95" y1="112.40" x2="285.65" y2="112.40" stroke="#000" stroke-width="1.3499999999999999"/>
<circle cx="282.80" cy="101.50" r="2.95" fill="#000"/>
<line x1="310.60" y1="93.20" x2="365.30" y2="93.20" stroke="#000" stroke-width="1.3"/>
<line x1="310.60" y1="90.60" x2="310.60" y2="95.80" stroke="#000" stroke-width="1.3"/>
<line x1="365.30" y1="90.60" x2="365.30" y2="95.80" stroke="#000" stroke-width="1.3"/>
<line x1="337.70" y1="81.50" x2="337.70" y2="105.10" stroke="#000" stroke-width="1.2"/>
<line x1="334.85" y1="81.50" x2="340.55" y2="81.50" stroke="#000" stroke-width="1.3499999999999999"/>
<line x1="334.85" y1="105.10" x2="340.55" y2="105.10" stroke="#000" stroke-width="1.3499999999999999"/>
<circle cx="337.70" cy="93.70" r="2.95" fill="#000"/>
<line x1="365.30" y1="95.80" x2="420.00" y2="95.80" stroke="#000" stroke-width="1.3"/>
<line x1="365.30" y1="93.20" x2="365.30" y2="98.40" stroke="#000" stroke-width="1.3"/>
<line x1="420.00" y1="93.20" x2="420.00" y2="98.40" stroke="#000" stroke-width="1.3"/>
<line x1="392.50" y1="84.10" x2="392.50" y2="107.00" stroke="#000" stroke-width="1.2"/>
<line x1="389.65" y1="84.10" x2="395.35" y2="84.10" stroke="#000" stroke-width="1.3499999999999999"/>
<line x1="389.65" y1="107.00" x2="395.35" y2="107.00" stroke="#000" stroke-width="1.3499999999999999"/>
<circle cx="392.50" cy="96.30" r="2.95" fill="#000"/>
<line x1="420.00" y1="94.95" x2="474.70" y2="94.95" stroke="#000" stroke-width="1.3"/>
<line x1="420.00" y1="92.35" x2="420.00" y2="97.55" stroke="#000" stroke-width="1.3"/>
<line x1="474.70" y1="92.35" x2="474.70" y2="97.55" stroke="#000" stroke-width="1.3"/>
<line x1="447.50" y1="83.20" x2="447.50" y2="106.90" stroke="#000" stroke-width="1.2"/>
<line x1="444.65" y1="83.20" x2="450.35" y2="83.20" stroke="#000" stroke-width="1.3499999999999999"/>
<line x1="444.65" y1="106.90" x2="450.35" y2="106.90" stroke="#000" stroke-width="1.3499999999999999"/>
<circle cx="447.50" cy="95.45" r="2.95" fill="#000"/>
<line x1="474.70" y1="115.10" x2="529.70" y2="115.10" stroke="#000" stroke-width="1.3"/>
<line x1="474.70" y1="112.50" x2="474.70" y2="117.70" stroke="#000" stroke-width="1.3"/>
<line x1="529.70" y1="112.50" x2="529.70" y2="117.70" stroke="#000" stroke-width="1.3"/>
<line x1="502.20" y1="104.20" x2="502.20" y2="125.80" stroke="#000" stroke-width="1.2"/>
<line x1="499.35" y1="104.20" x2="505.05" y2="104.20" stroke="#000" stroke-width="1.3499999999999999"/>
<line x1="499.35" y1="125.80" x2="505.05" y2="125.80" stroke="#000" stroke-width="1.3499999999999999"/>
<circle cx="502.20" cy="115.60" r="2.95" fill="#000"/>
<line x1="529.70" y1="104.20" x2="584.00" y2="104.20" stroke="#000" stroke-width="1.3"/>
<line x1="529.70" y1="101.60" x2="529.70" y2="106.80" stroke="#000" stroke-width="1.3"/>
<line x1="584.00" y1="101.60" x2="584.00" y2="106.80" stroke="#000" stroke-width="1.3"/>
<line x1="557.00" y1="95.00" x2="557.00" y2="115.00" stroke="#000" stroke-width="1.2"/>
<line x1="554.15" y1="95.00" x2="559.85" y2="95.00" stroke="#000" stroke-width="1.3499999999999999"/>
<line x1="554.15" y1="115.00" x2="559.85" y2="115.00" stroke="#000" stroke-width="1.3499999999999999"/>
<circle cx="557.00" cy="104.70" r="2.95" fill="#000"/>
<line x1="145.90" y1="-42.00" x2="145.90" y2="82.80" stroke="#000" stroke-width="1.2"/>
<line x1="143.05" y1="-42.00" x2="148.75" y2="-42.00" stroke="#000" stroke-width="1.3499999999999999"/>
<line x1="143.05" y1="82.80" x2="148.75" y2="82.80" stroke="#000" stroke-width="1.3499999999999999"/>
<circle cx="145.90" cy="21.70" r="2.75" fill="rgba(255,255,255,0.25)" stroke="#1a1a1a" stroke-width="0.7"/>
<line x1="189.80" y1="75.30" x2="189.80" y2="104.50" stroke="#000" stroke-width="1.2"/>
<line x1="186.95" y1="75.30" x2="192.65" y2="75.30" stroke="#000" stroke-width="1.3499999999999999"/>
<line x1="186.95" y1="104.50" x2="192.65" y2="104.50" stroke="#000" stroke-width="1.3499999999999999"/>
<circle cx="189.80" cy="90.60" r="2.75" fill="rgba(255,255,255,0.25)" stroke="#1a1a1a" stroke-width="0.7"/>
<line x1="200.70" y1="69.10" x2="200.70" y2="98.60" stroke="#000" stroke-width="1.2"/>
<line x1="197.85" y1="69.10" x2="203.55" y2="69.10" stroke="#000" stroke-width="1.3499999999999999"/>
<line x1="197.85" y1="98.60" x2="203.55" y2="98.60" stroke="#000" stroke-width="1.3499999999999999"/>
<circle cx="200.70" cy="84.30" r="2.75" fill="rgba(255,255,255,0.25)" stroke="#1a1a1a" stroke-width="0.7"/>
<line x1="233.60" y1="75.30" x2="233.60" y2="104.50" stroke="#000" stroke-width="1.2"/>
<line x1="230.75" y1="75.30" x2="236.45" y2="75.30" stroke="#000" stroke-width="1.3499999999999999"/>
<line x1="230.75" y1="104.50" x2="236.45" y2="104.50" stroke="#000" stroke-width="1.3499999999999999"/>
<circle cx="233.60" cy="90.60" r="2.75" fill="rgba(255,255,255,0.25)" stroke="#1a1a1a" stroke-width="0.7"/>
<line x1="255.50" y1="69.60" x2="255.50" y2="102.40" stroke="#000" stroke-width="1.2"/>
<line x1="252.65" y1="69.60" x2="258.35" y2="69.60" stroke="#000" stroke-width="1.3499999999999999"/>
<line x1="252.65" y1="102.40" x2="258.35" y2="102.40" stroke="#000" stroke-width="1.3499999999999999"/>
<circle cx="255.50" cy="86.00" r="2.75" fill="rgba(255,255,255,0.25)" stroke="#1a1a1a" stroke-width="0.7"/>
<line x1="277.30" y1="53.30" x2="277.30" y2="89.10" stroke="#000" stroke-width="1.2"/>
<line x1="274.45" y1="53.30" x2="280.15" y2="53.30" stroke="#000" stroke-width="1.3499999999999999"/>
<line x1="274.45" y1="89.10" x2="280.15" y2="89.10" stroke="#000" stroke-width="1.3499999999999999"/>
<circle cx="277.30" cy="71.60" r="2.75" fill="rgba(255,255,255,0.25)" stroke="#1a1a1a" stroke-width="0.7"/>
<line x1="310.30" y1="69.10" x2="310.30" y2="98.50" stroke="#000" stroke-width="1.2"/>
<line x1="307.45" y1="69.10" x2="313.15" y2="69.10" stroke="#000" stroke-width="1.3499999999999999"/>
<line x1="307.45" y1="98.50" x2="313.15" y2="98.50" stroke="#000" stroke-width="1.3499999999999999"/>
<circle cx="310.30" cy="84.00" r="2.75" fill="rgba(255,255,255,0.25)" stroke="#1a1a1a" stroke-width="0.7"/>
<line x1="321.40" y1="50.70" x2="321.40" y2="83.30" stroke="#000" stroke-width="1.2"/>
<line x1="318.55" y1="50.70" x2="324.25" y2="50.70" stroke="#000" stroke-width="1.3499999999999999"/>
<line x1="318.55" y1="83.30" x2="324.25" y2="83.30" stroke="#000" stroke-width="1.3499999999999999"/>
<circle cx="321.40" cy="67.50" r="2.75" fill="rgba(255,255,255,0.25)" stroke="#1a1a1a" stroke-width="0.7"/>
<line x1="365.20" y1="55.80" x2="365.20" y2="91.40" stroke="#000" stroke-width="1.2"/>
<line x1="362.35" y1="55.80" x2="368.05" y2="55.80" stroke="#000" stroke-width="1.3499999999999999"/>
<line x1="362.35" y1="91.40" x2="368.05" y2="91.40" stroke="#000" stroke-width="1.3499999999999999"/>
<circle cx="365.20" cy="73.60" r="2.75" fill="rgba(255,255,255,0.25)" stroke="#1a1a1a" stroke-width="0.7"/>
<line x1="124.00" y1="42.00" x2="124.00" y2="154.50" stroke="#0000ff" stroke-width="1.2"/>
<line x1="121.15" y1="42.00" x2="126.85" y2="42.00" stroke="#0000ff" stroke-width="1.3499999999999999"/>
<line x1="121.15" y1="154.50" x2="126.85" y2="154.50" stroke="#0000ff" stroke-width="1.3499999999999999"/>
<path d="M120.35,99.30 L124.00,95.65 L127.65,99.30 L124.00,102.95 Z" fill="rgba(255,255,255,0.22)" stroke="#0000ff" stroke-width="1.05"/>
<line x1="145.85" y1="85.40" x2="145.85" y2="152.00" stroke="#0000ff" stroke-width="1.2"/>
<line x1="143.00" y1="85.40" x2="148.70" y2="85.40" stroke="#0000ff" stroke-width="1.3499999999999999"/>
<line x1="143.00" y1="152.00" x2="148.70" y2="152.00" stroke="#0000ff" stroke-width="1.3499999999999999"/>
<path d="M142.20,120.30 L145.85,116.65 L149.50,120.30 L145.85,123.95 Z" fill="rgba(255,255,255,0.22)" stroke="#0000ff" stroke-width="1.05"/>
<line x1="145.90" y1="-120.00" x2="145.90" y2="6.50" stroke="#0000ff" stroke-width="1.2"/>
<line x1="143.05" y1="-120.00" x2="148.75" y2="-120.00" stroke="#0000ff" stroke-width="1.3499999999999999"/>
<line x1="143.05" y1="6.50" x2="148.75" y2="6.50" stroke="#0000ff" stroke-width="1.3499999999999999"/>
<path d="M142.25,-60.00 L145.90,-63.65 L149.55,-60.00 L145.90,-56.35 Z" fill="rgba(255,255,255,0.22)" stroke="#0000ff" stroke-width="1.05"/>
<line x1="189.80" y1="138.00" x2="189.80" y2="200.30" stroke="#0000ff" stroke-width="1.2"/>
<line x1="186.95" y1="138.00" x2="192.65" y2="138.00" stroke="#0000ff" stroke-width="1.3499999999999999"/>
<line x1="186.95" y1="200.30" x2="192.65" y2="200.30" stroke="#0000ff" stroke-width="1.3499999999999999"/>
<path d="M186.15,170.20 L189.80,166.55 L193.45,170.20 L189.80,173.85 Z" fill="rgba(255,255,255,0.22)" stroke="#0000ff" stroke-width="1.05"/>
<line x1="200.70" y1="71.40" x2="200.70" y2="146.10" stroke="#0000ff" stroke-width="1.2"/>
<line x1="197.85" y1="71.40" x2="203.55" y2="71.40" stroke="#0000ff" stroke-width="1.3499999999999999"/>
<line x1="197.85" y1="146.10" x2="203.55" y2="146.10" stroke="#0000ff" stroke-width="1.3499999999999999"/>
<path d="M197.05,109.70 L200.70,106.05 L204.35,109.70 L200.70,113.35 Z" fill="rgba(255,255,255,0.22)" stroke="#0000ff" stroke-width="1.05"/>
<line x1="233.60" y1="110.70" x2="233.60" y2="165.30" stroke="#0000ff" stroke-width="1.2"/>
<line x1="230.75" y1="110.70" x2="236.45" y2="110.70" stroke="#0000ff" stroke-width="1.3499999999999999"/>
<line x1="230.75" y1="165.30" x2="236.45" y2="165.30" stroke="#0000ff" stroke-width="1.3499999999999999"/>
<path d="M229.95,139.30 L233.60,135.65 L237.25,139.30 L233.60,142.95 Z" fill="rgba(255,255,255,0.22)" stroke="#0000ff" stroke-width="1.05"/>
<line x1="255.50" y1="-54.00" x2="255.50" y2="54.20" stroke="#0000ff" stroke-width="1.2"/>
<line x1="252.65" y1="-54.00" x2="258.35" y2="-54.00" stroke="#0000ff" stroke-width="1.3499999999999999"/>
<line x1="252.65" y1="54.20" x2="258.35" y2="54.20" stroke="#0000ff" stroke-width="1.3499999999999999"/>
<path d="M251.85,1.20 L255.50,-2.45 L259.15,1.20 L255.50,4.85 Z" fill="rgba(255,255,255,0.22)" stroke="#0000ff" stroke-width="1.05"/>
<line x1="310.30" y1="44.05" x2="310.30" y2="135.80" stroke="#0000ff" stroke-width="1.2"/>
<line x1="307.45" y1="44.05" x2="313.15" y2="44.05" stroke="#0000ff" stroke-width="1.3499999999999999"/>
<line x1="307.45" y1="135.80" x2="313.15" y2="135.80" stroke="#0000ff" stroke-width="1.3499999999999999"/>
<path d="M306.65,91.20 L310.30,87.55 L313.95,91.20 L310.30,94.85 Z" fill="rgba(255,255,255,0.22)" stroke="#0000ff" stroke-width="1.05"/>
<line x1="321.40" y1="62.70" x2="321.40" y2="138.00" stroke="#0000ff" stroke-width="1.2"/>
<line x1="318.55" y1="62.70" x2="324.25" y2="62.70" stroke="#0000ff" stroke-width="1.3499999999999999"/>
<line x1="318.55" y1="138.00" x2="324.25" y2="138.00" stroke="#0000ff" stroke-width="1.3499999999999999"/>
<path d="M317.75,101.70 L321.40,98.05 L325.05,101.70 L321.40,105.35 Z" fill="rgba(255,255,255,0.22)" stroke="#0000ff" stroke-width="1.05"/>
<line x1="343.00" y1="83.70" x2="343.00" y2="158.80" stroke="#0000ff" stroke-width="1.2"/>
<line x1="340.15" y1="83.70" x2="345.85" y2="83.70" stroke="#0000ff" stroke-width="1.3499999999999999"/>
<line x1="340.15" y1="158.80" x2="345.85" y2="158.80" stroke="#0000ff" stroke-width="1.3499999999999999"/>
<path d="M339.35,122.20 L343.00,118.55 L346.65,122.20 L343.00,125.85 Z" fill="rgba(255,255,255,0.22)" stroke="#0000ff" stroke-width="1.05"/>
<line x1="365.20" y1="44.10" x2="365.20" y2="135.80" stroke="#0000ff" stroke-width="1.2"/>
<line x1="362.35" y1="44.10" x2="368.05" y2="44.10" stroke="#0000ff" stroke-width="1.3499999999999999"/>
<line x1="362.35" y1="135.80" x2="368.05" y2="135.80" stroke="#0000ff" stroke-width="1.3499999999999999"/>
<path d="M361.55,91.20 L365.20,87.55 L368.85,91.20 L365.20,94.85 Z" fill="rgba(255,255,255,0.22)" stroke="#0000ff" stroke-width="1.05"/>
</g>
<rect x="94.40" y="0.33" width="438.90" height="270.92" fill="none" stroke="#000" stroke-width="1.45"/>
<path d="M94.40,271.25 v-5.60 M94.40,0.33 v5.60 M116.34,271.25 v-3.50 M116.34,0.33 v3.50 M138.29,271.25 v-3.50 M138.29,0.33 v3.50 M160.24,271.25 v-3.50 M160.24,0.33 v3.50 M182.18,271.25 v-3.50 M182.18,0.33 v3.50 M204.12,271.25 v-5.60 M204.12,0.33 v5.60 M226.07,271.25 v-3.50 M226.07,0.33 v3.50 M248.02,271.25 v-3.50 M248.02,0.33 v3.50 M269.96,271.25 v-3.50 M269.96,0.33 v3.50 M291.91,271.25 v-3.50 M291.91,0.33 v3.50 M313.85,271.25 v-5.60 M313.85,0.33 v5.60 M335.80,271.25 v-3.50 M335.80,0.33 v3.50 M357.74,271.25 v-3.50 M357.74,0.33 v3.50 M379.69,271.25 v-3.50 M379.69,0.33 v3.50 M401.63,271.25 v-3.50 M401.63,0.33 v3.50 M423.58,271.25 v-5.60 M423.58,0.33 v5.60 M445.52,271.25 v-3.50 M445.52,0.33 v3.50 M467.47,271.25 v-3.50 M467.47,0.33 v3.50 M489.41,271.25 v-3.50 M489.41,0.33 v3.50 M511.36,271.25 v-3.50 M511.36,0.33 v3.50 M533.30,271.25 v-5.60 M533.30,0.33 v5.60 M94.40,271.25 h5.60 M533.30,271.25 h-5.60 M94.40,260.83 h3.50 M533.30,260.83 h-3.50 M94.40,250.41 h3.50 M533.30,250.41 h-3.50 M94.40,239.99 h3.50 M533.30,239.99 h-3.50 M94.40,229.57 h5.60 M533.30,229.57 h-5.60 M94.40,219.15 h3.50 M533.30,219.15 h-3.50 M94.40,208.73 h3.50 M533.30,208.73 h-3.50 M94.40,198.31 h3.50 M533.30,198.31 h-3.50 M94.40,187.89 h5.60 M533.30,187.89 h-5.60 M94.40,177.47 h3.50 M533.30,177.47 h-3.50 M94.40,167.05 h3.50 M533.30,167.05 h-3.50 M94.40,156.63 h3.50 M533.30,156.63 h-3.50 M94.40,146.21 h5.60 M533.30,146.21 h-5.60 M94.40,135.79 h3.50 M533.30,135.79 h-3.50 M94.40,125.37 h3.50 M533.30,125.37 h-3.50 M94.40,114.95 h3.50 M533.30,114.95 h-3.50 M94.40,104.53 h5.60 M533.30,104.53 h-5.60 M94.40,94.11 h3.50 M533.30,94.11 h-3.50 M94.40,83.69 h3.50 M533.30,83.69 h-3.50 M94.40,73.27 h3.50 M533.30,73.27 h-3.50 M94.40,62.85 h5.60 M533.30,62.85 h-5.60 M94.40,52.43 h3.50 M533.30,52.43 h-3.50 M94.40,42.01 h3.50 M533.30,42.01 h-3.50 M94.40,31.59 h3.50 M533.30,31.59 h-3.50 M94.40,21.17 h5.60 M533.30,21.17 h-5.60 M94.40,10.75 h3.50 M533.30,10.75 h-3.50 M94.40,0.33 h3.50 M533.30,0.33 h-3.50" stroke="#000" stroke-width="1.2" fill="none"/>
<text x="88.75" y="281.70" text-anchor="end" font-size="24.6" textLength="11.4" lengthAdjust="spacingAndGlyphs">0</text>
<text x="88.75" y="240.02" text-anchor="end" font-size="24.6" textLength="34.3" lengthAdjust="spacingAndGlyphs">200</text>
<text x="88.75" y="198.34" text-anchor="end" font-size="24.6" textLength="34.3" lengthAdjust="spacingAndGlyphs">400</text>
<text x="88.75" y="156.66" text-anchor="end" font-size="24.6" textLength="34.3" lengthAdjust="spacingAndGlyphs">600</text>
<text x="88.75" y="114.98" text-anchor="end" font-size="24.6" textLength="34.3" lengthAdjust="spacingAndGlyphs">800</text>
<text x="88.75" y="73.30" text-anchor="end" font-size="24.6" textLength="45.8" lengthAdjust="spacingAndGlyphs">1000</text>
<text x="88.75" y="31.62" text-anchor="end" font-size="24.6" textLength="45.8" lengthAdjust="spacingAndGlyphs">1200</text>
<text x="94.50" y="303.7" text-anchor="middle" font-size="24.6" textLength="11.3" lengthAdjust="spacingAndGlyphs">0</text>
<text x="204.22" y="303.7" text-anchor="middle" font-size="24.6" textLength="22.6" lengthAdjust="spacingAndGlyphs">50</text>
<text x="313.95" y="303.7" text-anchor="middle" font-size="24.6" textLength="33.9" lengthAdjust="spacingAndGlyphs">100</text>
<text x="423.68" y="303.7" text-anchor="middle" font-size="24.6" textLength="33.9" lengthAdjust="spacingAndGlyphs">150</text>
<text x="533.40" y="303.7" text-anchor="middle" font-size="24.6" textLength="33.9" lengthAdjust="spacingAndGlyphs">200</text>
<text x="270.5" y="343.2" font-size="23" font-style="italic" textLength="16" lengthAdjust="spacingAndGlyphs">E</text>
<text x="296.6" y="343.2" font-size="23" textLength="60.1" lengthAdjust="spacingAndGlyphs">(MeV)</text>
<g transform="translate(20.9,166.6) rotate(-90)"><text x="0" y="0" font-size="25" font-style="italic" textLength="13" lengthAdjust="spacingAndGlyphs">σ</text><text x="20.9" y="0" font-size="24.5" textLength="38.6" lengthAdjust="spacingAndGlyphs">(pb)</text></g>
<circle cx="387.4" cy="174.5" r="3.5" fill="#000"/>
<text x="399" y="179" font-size="19.3" font-style="italic" textLength="20" lengthAdjust="spacingAndGlyphs">pp</text>
<line x1="411.2" y1="166.9" x2="418" y2="166.9" stroke="#000" stroke-width="0.8"/>
<text x="426.1" y="179" font-size="19.3" textLength="82.6" lengthAdjust="spacingAndGlyphs">(BABAR)</text>
<circle cx="387.7" cy="216.1" r="3.05" fill="none" stroke="#000" stroke-width="0.9"/>
<text x="399" y="221" font-size="19.3" font-style="italic" textLength="20" lengthAdjust="spacingAndGlyphs">pp</text>
<line x1="411.2" y1="208.9" x2="418" y2="208.9" stroke="#000" stroke-width="0.8"/>
<text x="426.1" y="221" font-size="19.3" textLength="77.4" lengthAdjust="spacingAndGlyphs">(CMD–3)</text>
<path d="M384.05,257.70 L388.00,253.75 L391.95,257.70 L388.00,261.65 Z" fill="none" stroke="#0000ff" stroke-width="1.1"/>
<text x="400" y="263.2" font-size="19.3" font-style="italic" textLength="21.3" lengthAdjust="spacingAndGlyphs">nn</text>
<line x1="412.6" y1="249.5" x2="419.8" y2="249.5" stroke="#000" stroke-width="0.8"/>
<text x="429.5" y="263.2" font-size="19.3" textLength="52.2" lengthAdjust="spacingAndGlyphs">(SND)</text>
</svg>
</body></html>
